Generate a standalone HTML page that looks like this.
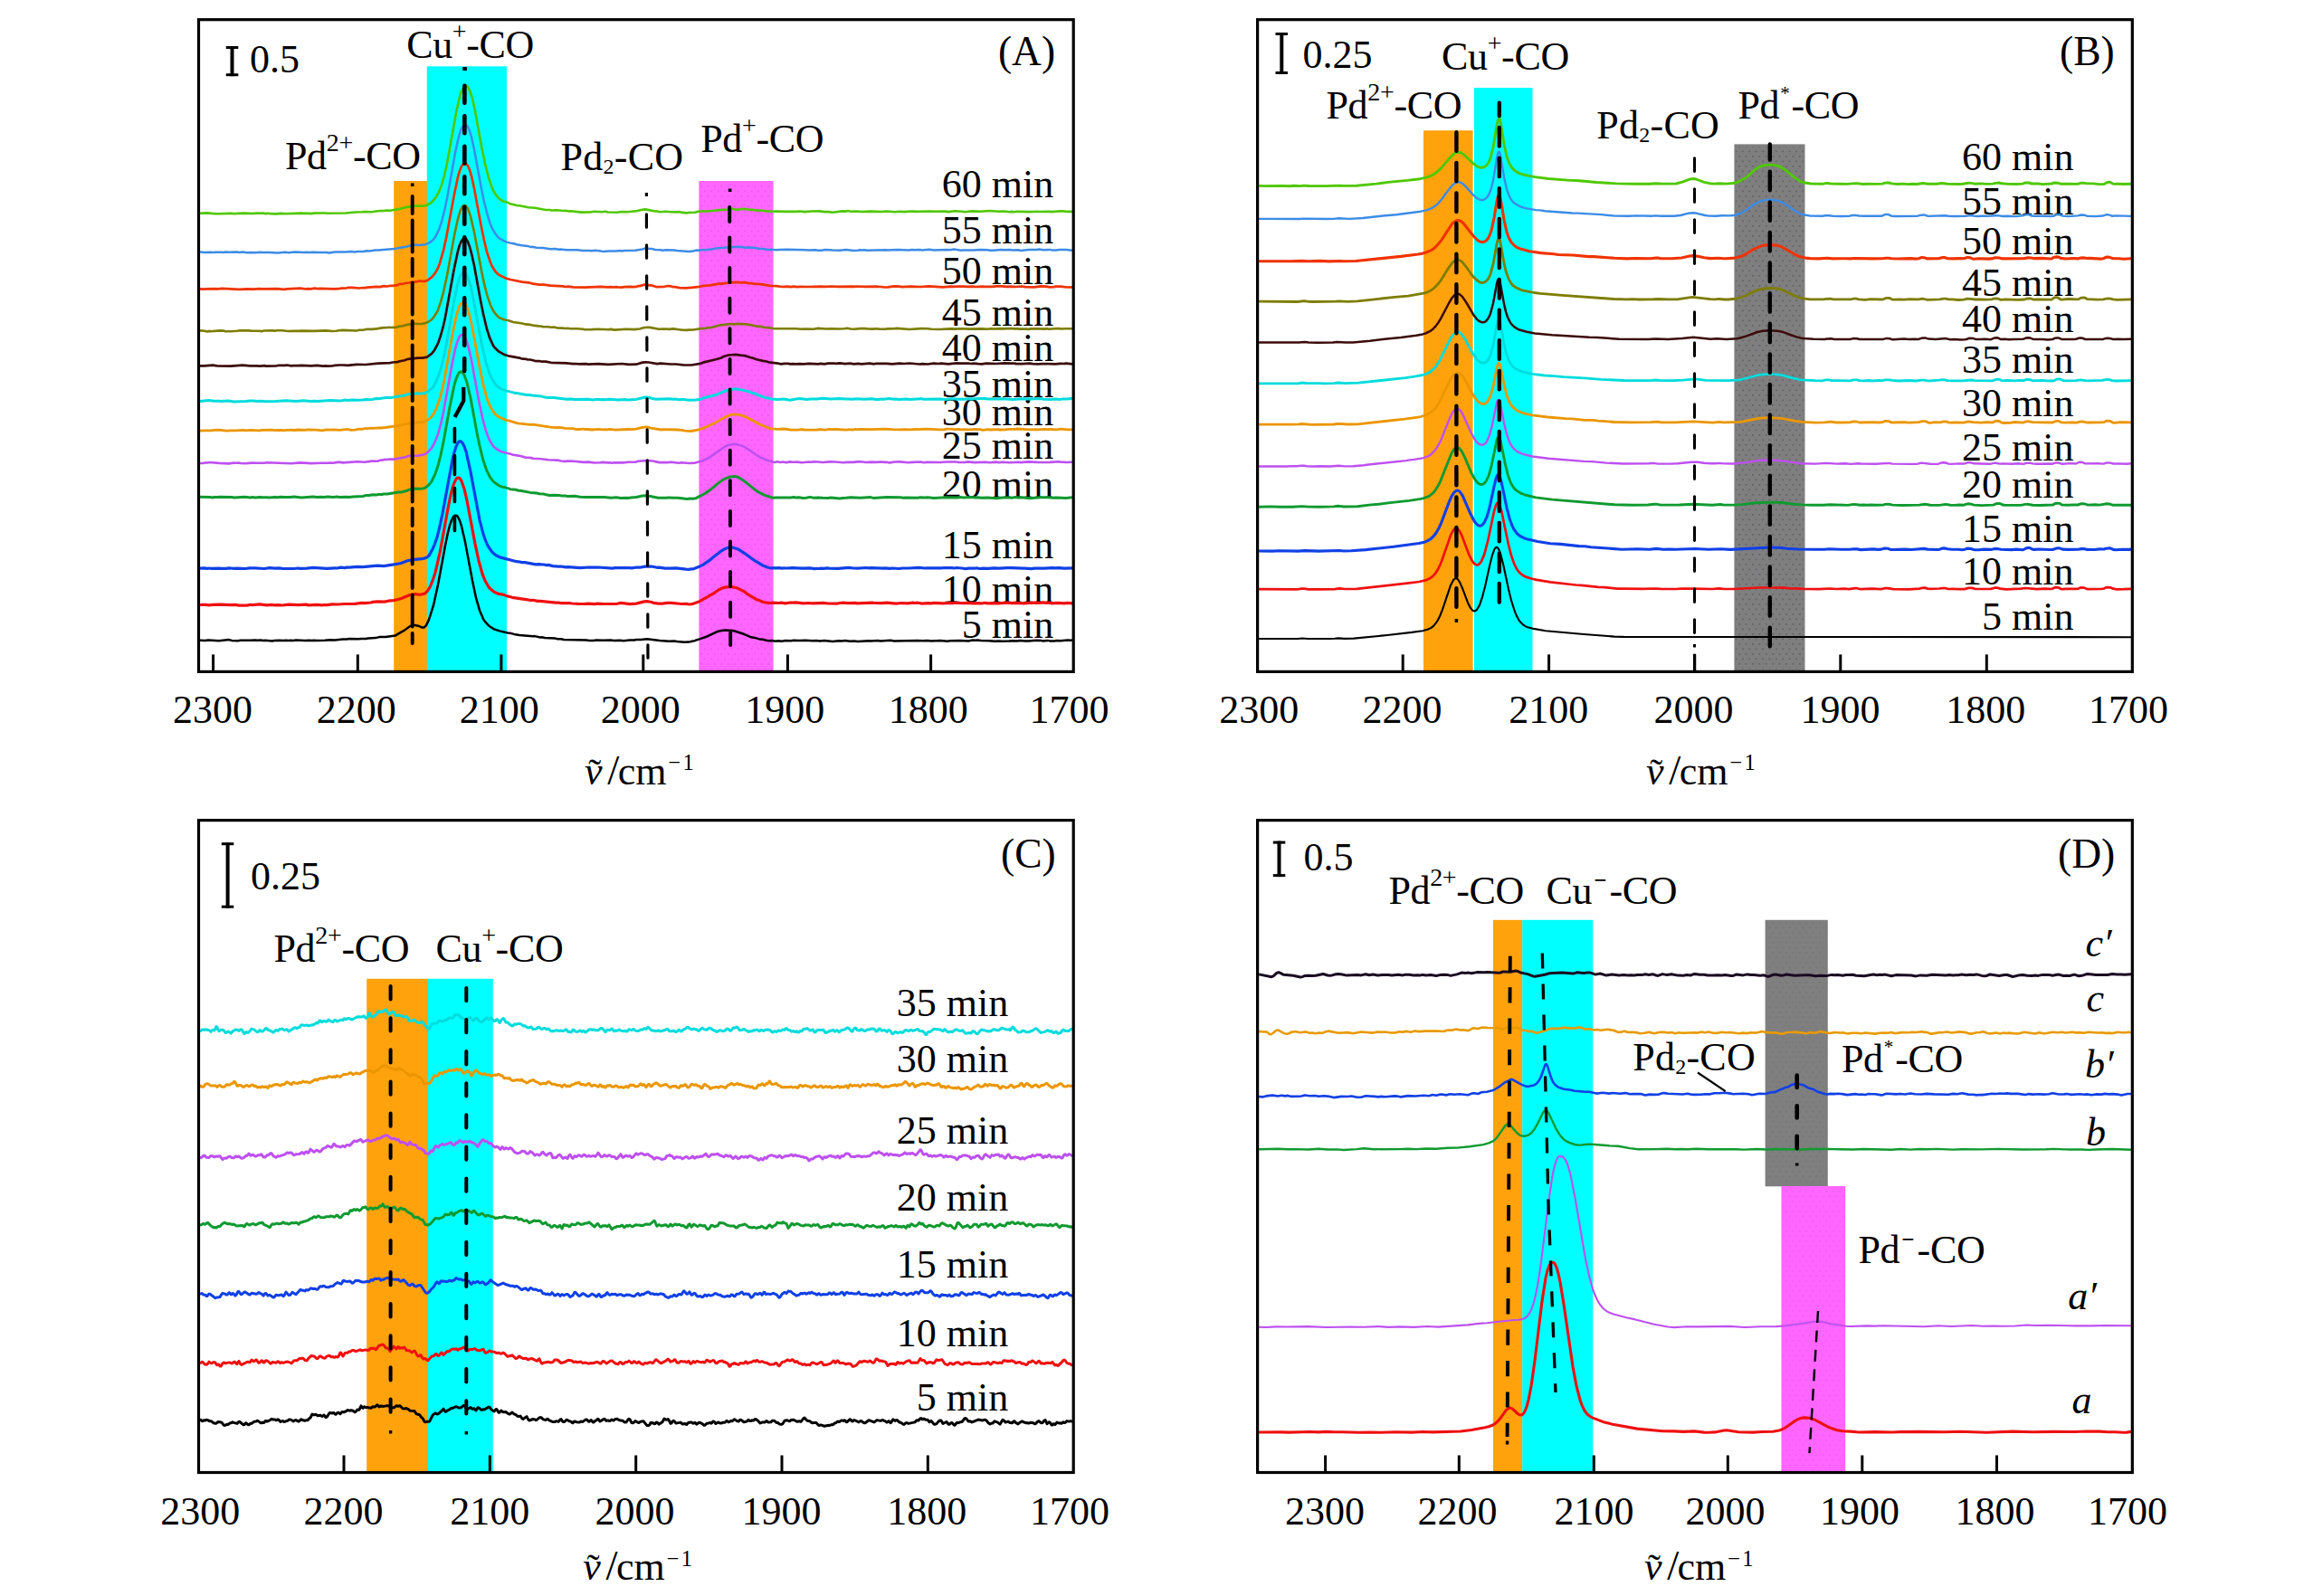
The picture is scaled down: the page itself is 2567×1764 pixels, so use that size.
<!DOCTYPE html>
<html><head><meta charset="utf-8"><title>IR spectra</title>
<style>html,body{margin:0;padding:0;background:#fff}body{width:2567px;height:1764px;overflow:hidden;font-family:"Liberation Serif",serif}svg{display:block}</style></head>
<body>
<svg width="2567" height="1764" viewBox="0 0 2567 1764" font-family="'Liberation Serif', serif" fill="#000">
<defs><pattern id="pm" width="7.4" height="11" patternUnits="userSpaceOnUse"><rect x="1" y="1.5" width="1.7" height="1.7" fill="#e552e6"/><rect x="4.7" y="7" width="1.7" height="1.7" fill="#e552e6"/></pattern><pattern id="pg" width="7.4" height="11" patternUnits="userSpaceOnUse"><rect x="1" y="1.5" width="1.7" height="1.7" fill="#5e5862"/><rect x="4.7" y="7" width="1.7" height="1.7" fill="#5e5862"/></pattern></defs>
<rect x="435.2" y="200.0" width="36.8" height="542.4" fill="#ffa20c"/>
<rect x="471.8" y="73.3" width="88.2" height="669.1" fill="#00ffff"/>
<rect x="772.4" y="200.0" width="82.2" height="542.4" fill="#ff66ff"/>
<rect x="774.0" y="203.0" width="79.0" height="536.4" fill="url(#pm)" opacity="0.8"/>
<text x="1164.3" y="218.2" font-size="44" text-anchor="end" >60 min</text>
<text x="1164.3" y="269.0" font-size="44" text-anchor="end" >55 min</text>
<text x="1164.3" y="313.8" font-size="44" text-anchor="end" >50 min</text>
<text x="1164.3" y="360.2" font-size="44" text-anchor="end" >45 min</text>
<text x="1164.3" y="398.9" font-size="44" text-anchor="end" >40 min</text>
<text x="1164.3" y="439.2" font-size="44" text-anchor="end" >35 min</text>
<text x="1164.3" y="469.6" font-size="44" text-anchor="end" >30 min</text>
<text x="1164.3" y="507.2" font-size="44" text-anchor="end" >25 min</text>
<text x="1164.3" y="549.7" font-size="44" text-anchor="end" >20 min</text>
<text x="1164.3" y="617.1" font-size="44" text-anchor="end" >15 min</text>
<text x="1164.3" y="665.5" font-size="44" text-anchor="end" >10 min</text>
<text x="1164.3" y="705.3" font-size="44" text-anchor="end" >5 min</text>
<polyline points="221,235.8 229,235.4 237,236.2 243,236.3 255,235.9 260,236.2 263,235.7 266,235.9 269,235.6 279,236 284,235.6 288,235.8 290,235.5 294,236.1 296,235.8 299,236.2 305,236.4 311,235.9 315,236.2 333,235.6 335,235.9 341,235.7 344,236.1 347,235.6 352,235.5 359,235.5 362,235.8 382,235.5 393,234.5 400,234.3 403,234 411,234.2 417,233.2 425,232.9 428,232.5 431,232.7 442,230.9 444,230.2 451,228.6 453,228.5 455,227.9 459,227.6 467,227.7 471,226.9 476,224.3 481,219.2 485,212.1 488,204.4 491,194.2 494,180.8 504,125.1 507,111 509,103.5 511,98.5 513,95.7 514,94.9 515,94.7 516,95.2 517,96.2 519,99.7 522,109 525,122.8 532,161.6 536,181 540,196.8 544,208.1 546,212.3 548,215.5 551,218.9 554,221.4 556,222.4 560,223.4 563,224.9 571,227.1 574,227.2 584,229.3 591,229.8 603,232 607,232 610,232.5 615,232.3 623,233 626,232.9 629,233.6 631,233.3 642,234.6 652,234.5 657,233.7 665,234.2 669,233.8 672,234.5 682,234.8 687,234 694,234.2 698,233.8 704,233.1 710,231.7 713,231.4 724,233.5 726,233.5 729,234.3 736,233.7 741,234.2 748,234.4 750,234.1 754,234.9 759,235.4 761,235 768,234.8 771,233.9 774,233.5 782,233.5 795,232.1 805,231.5 809,230.8 813,231.7 818,231.4 822,230.7 828,231.7 831,231.7 835,232.4 843,232.7 847,233.4 853,233.8 858,233.6 868,233.9 871,233.7 879,233.9 884,233.5 889,234.1 897,233.5 905,233.4 911,234.1 915,234.1 920,234.8 929,233.6 932,233.4 935,233.6 937,233.1 940,233.8 946,233.6 951,234 962,233.6 975,234 979,233.5 989,234.3 994,233.7 999,234.1 1008,233.5 1012,233.9 1028,233.5 1034,233.8 1044,233.6 1048,234.1 1055,233.3 1063,233.7 1066,234.2 1074,233.4 1084,233.8 1093,233 1104,233.7 1109,233.5 1116,234.2 1118,233.9 1120,234.2 1124,233.7 1136,234.1 1143,234 1145,233.7 1148,234 1160,233.8 1162,234.1 1173,233.3 1179,233.9 1185,233.9" fill="none" stroke="#4fc800" stroke-width="2.6" stroke-linejoin="round" />
<polyline points="221,278.6 226,279.1 232,278.8 235,279.1 239,278.7 245,278.7 247,279 249,278.6 253,278.8 262,278.5 265,278.9 268,278.6 273,279.2 277,279 282,279.3 288,278.8 290,279.1 297,279 307,279.5 315,278.7 319,279.3 326,278.6 336,279 338,278.7 341,279 347,278.7 352,279.1 361,279.1 364,279.4 370,278.5 376,278.4 382,278.6 388,278.1 392,278.4 395,277.9 402,278 405,277.3 408,277.6 415,276.5 418,276.5 436,275.1 442,273.7 449,272.7 451,272 459,270.6 463,271 470,270.2 474,268.6 477,266.4 479,264.6 481,262.1 485,253.9 488,245.2 491,233.4 494,219.2 503,169.2 506,155 508,147.5 510,142 512,139 514,137.8 515,138 517,140.3 519,144.8 521,151.5 524,165.3 532,208.7 535,223 539,238.7 541,245.2 543,250.5 545,254.5 548,259.3 550,261.7 552,263.5 557,266.4 560,267.6 566,269.1 568,269.3 571,270.2 577,271.3 583,271.9 586,272.9 588,272.8 593,273.7 600,274 608,275.2 614,275.1 617,275.7 619,275.5 626,276.3 638,276.3 644,277 651,276.9 654,277.3 658,276.8 664,277.4 667,278.1 673,277.4 681,277.4 685,277 687,277.4 690,276.9 702,276.7 710,275.4 714,274.3 717,274.8 720,274.9 724,276 730,276.2 732,276.7 736,276.2 742,276.6 745,276.4 748,276.9 761,278 766,277.6 769,276.6 772,276.7 775,276.2 781,276.1 786,275.6 793,274.2 800,273.8 802,273.4 804,273.5 815,272.7 820,273 823,273.8 827,273.5 832,273.8 840,275.1 843,275 849,275.9 852,275.8 857,276.3 862,275.9 869,275.8 890,276.3 893,276.6 901,276.3 904,276.7 908,276.7 912,276.1 920,276.6 928,276.7 935,276.1 943,276.9 948,276.7 950,276.3 953,276.5 955,276.2 958,276.8 979,276.2 981,276.6 992,275.9 1004,276.6 1008,276 1010,276.3 1016,276.1 1019,276.5 1027,275.8 1032,276.4 1046,276 1050,276.2 1054,275.6 1062,276.7 1064,276.4 1076,276.4 1083,276 1091,276.2 1094,276.7 1098,276.8 1106,276 1110,276.3 1116,276 1119,276.4 1125,276.3 1128,276.9 1137,276 1146,275.9 1148,275.6 1153,276.2 1160,275.9 1162,276.4 1167,276.6 1171,276.1 1178,276.1 1185,276.8" fill="none" stroke="#3c8ce6" stroke-width="2.5" stroke-linejoin="round" />
<polyline points="221,319.4 226,319.6 228,319.3 237,319.1 241,319.3 245,318.9 265,319.8 273,319.4 281,319.7 286,319.2 291,319.4 306,319.1 314,319.8 317,319.3 332,318.7 338,319.5 340,319.2 343,319.4 348,318.7 351,319.2 354,318.8 369,319.4 374,319.2 377,318.6 383,318.3 385,317.9 389,317.8 397,318.5 401,318 404,318.1 406,317.6 410,317.3 416,316.9 420,317.1 424,316.1 428,316.5 431,315.8 434,315.8 439,315.1 442,313.9 445,313.8 448,313 452,312.5 454,312 457,311.9 459,311.4 461,311.3 463,310.6 469,310.9 472,310.1 477,306.4 481,301.7 484,296.2 486,290.9 490,276.9 493,263.5 502,214.6 506,195.7 508,188.7 510,183.7 512,181 513,180.4 514,180.2 515,180.7 517,183.3 519,187.9 521,194.6 524,208.2 531,246.2 535,265.8 538,278.5 542,290.3 544,294.7 546,298 548,300.7 551,303.6 559,307.6 564,309 577,311.6 584,312.3 589,313.6 596,314.7 601,314.7 608,315.7 622,316.4 625,317 628,316.7 633,317.4 646,317.6 664,316.8 671,317.4 675,317.2 678,317.5 681,317.1 683,317.5 687,317.6 690,317.1 696,316.9 700,317.2 703,316.9 705,316.2 707,316.1 712,314.6 721,315.7 726,317.2 733,317 738,316 741,316.3 744,317.2 746,317.2 751,318.1 758,318.4 771,317.2 778,315.8 785,315.4 795,313.4 797,313.6 813,311.8 819,312.4 822,312.2 828,313.1 830,313 833,313.6 841,314.1 851,315.9 858,316.1 864,317 870,316.7 874,317.1 877,316.7 881,317.1 884,316.8 893,317 907,316.6 912,316.9 919,316.5 926,316.9 942,316.6 944,316.8 946,316.5 956,316.8 969,316.6 971,317 974,317 977,317.5 981,317.3 988,316.3 994,316.6 997,317.1 1006,316.7 1018,317 1026,316.3 1042,317.4 1051,316.7 1054,316.8 1059,316.5 1062,316.7 1065,316.6 1069,316.9 1075,316.6 1078,317 1086,316.6 1088,316.9 1096,316.9 1101,316.4 1107,316.3 1112,316.9 1117,316.6 1122,317 1129,316.5 1133,317.1 1143,317.3 1150,316.3 1156,316.6 1160,317.4 1164,317.2 1167,316.7 1172,316.7 1179,317.5 1185,317.4" fill="none" stroke="#f03200" stroke-width="2.7" stroke-linejoin="round" />
<polyline points="221,365.4 226,365.8 229,366.4 231,365.9 233,366.2 243,365.4 247,365.6 249,366.2 255,366.3 262,365.8 265,365.3 275,365.4 278,365.8 285,365.7 290,366.1 292,365.5 300,365.3 303,365.6 307,365.2 312,365.3 318,366 324,365.7 330,365.9 333,365.6 347,365.9 360,365.4 367,366 372,365.8 374,365.3 379,364.9 394,365.5 397,364.8 402,364.6 406,363.8 411,363.9 416,363.4 424,362.1 426,362.2 430,361.7 432,362 437,361.9 442,360.6 445,360.2 449,359.1 457,357.8 466,358 472,356.4 476,354 478,352.1 480,349.5 483,344.8 484,342.5 487,333.9 490,322.9 494,304.6 502,260.5 506,241.8 508,234.8 510,229.9 511,228.4 512,227.4 513,227 514,227.1 515,227.7 517,230.4 520,239.1 524,256.4 532,299 535,313.4 538,325.3 542,337.2 544,341.5 546,344.9 549,348.7 551,350.5 553,351.8 557,353.3 562,354.3 567,356 576,357.2 581,358.4 586,358.9 589,359.6 595,360.4 598,360.5 600,361.3 605,361.3 609,361.7 612,361.5 616,362.5 621,362.6 625,363 627,362.8 630,363.3 637,363.2 644,363.7 646,364.2 654,364.1 661,363.7 672,364.3 675,363.9 679,364.6 692,363.7 701,364.1 707,363.5 710,362.5 715,361.8 718,361.9 728,363.8 734,363.5 740,363.9 744,363.4 754,364.8 759,364.9 761,364.6 766,364.5 775,363.1 779,363 782,362.3 785,362.3 797,359.1 799,359.1 807,358 812,358.2 815,357.9 824,358.2 831,359.4 836,360.6 841,360.9 844,361.7 852,362.5 855,363.2 879,363.3 886,363.8 889,363.5 899,363.7 904,362.9 913,363.5 919,363.2 927,363.5 933,363.3 936,362.8 940,363.5 944,363.7 951,363.1 956,363.1 959,363.5 964,363.6 969,363.3 972,363.7 978,363.8 981,363.4 988,363.3 991,362.9 1005,364 1018,363.1 1025,363.3 1029,363.8 1038,364 1051,363.4 1057,363.6 1061,363.2 1072,363.6 1085,363.4 1091,363.7 1095,363.2 1098,363.5 1106,363.1 1109,363.4 1118,363 1121,363.4 1124,363.2 1127,363.6 1134,363.6 1136,363.9 1140,363.4 1146,363.3 1154,363.6 1157,363.3 1159,363.7 1166,363.2 1170,363.1 1173,363.5 1176,363.2 1185,363.2" fill="none" stroke="#7d7d00" stroke-width="2.6" stroke-linejoin="round" />
<polyline points="221,404.3 226,404.4 235,403.7 240,404.4 255,404.7 268,403.7 276,404.4 283,404.3 288,404.7 292,404.1 294,404.6 305,404.5 308,403.8 315,403.9 317,403.5 322,404.3 324,404.1 330,404.2 333,403.8 344,404.3 350,403.9 357,404.6 360,404.4 362,404.6 367,404.5 370,403.8 375,403.5 380,403.5 384,403.9 394,402.8 404,403 418,401.6 431,401.1 434,400.5 439,400.1 442,399.2 447,398.2 451,396.8 462,395.6 467,395.6 472,394.6 477,390.9 480,387.2 484,379.6 487,370.8 490,359.8 492,350.7 502,296.1 506,277.5 508,270.7 510,266.2 512,263.9 514,263.5 515,264.1 517,267.2 519,272.9 521,280.1 524,293.5 531,331.9 534,346.7 538,363.7 541,373.1 545,382 547,384.6 551,388.4 557,391.9 563,393.7 574,395.6 576,396.3 581,396.8 583,397.4 586,397.5 591,398.8 594,399.2 596,399 599,399.7 603,399.6 609,400.8 626,401.4 633,402.2 636,402 640,402.4 647,402.1 650,402.6 661,402.2 672,402.9 687,402 695,402.8 703,402.7 710,400.6 713,400.3 717,400.5 726,402.2 730,401.7 741,402.5 747,402.5 755,403.3 764,403.5 774,401.8 779,400.1 791,397.3 797,395.5 800,393.9 805,392.5 813,391.9 818,392.7 823,393.1 829,395 832,395.7 836,397.2 843,398.9 847,399.5 851,400.7 860,401.7 863,402.4 867,401.8 871,401.9 873,402.4 876,402.1 879,402.4 884,402.2 888,402.4 894,401.9 904,402.4 907,401.9 911,402.4 915,401.7 921,401.5 924,401.8 928,401.3 934,402.1 939,401.7 944,402.3 948,401.8 952,402.3 961,401.6 966,402.3 968,401.9 980,401.9 986,402.4 994,401.6 999,402 1005,401.5 1016,402.5 1019,402.2 1025,402.5 1032,401.7 1037,402 1040,401.7 1048,402.3 1057,401.3 1061,401.7 1070,401.5 1073,402 1076,401.6 1081,402.2 1085,402.3 1090,401.7 1101,402 1110,401.3 1117,401.7 1121,401.6 1123,402.1 1130,402.2 1138,401.6 1141,402.1 1147,402.4 1154,402 1166,402.3 1172,401.8 1175,402 1178,401.6 1185,402.3" fill="none" stroke="#3c0a0a" stroke-width="2.7" stroke-linejoin="round" />
<polyline points="221,443.4 231,442.6 236,443.3 242,443.3 244,443.6 252,443 258,443.9 272,443.6 276,443 280,442.9 284,443.4 288,443.2 293,443.7 305,443.5 316,442.7 327,443.4 335,442.8 343,443.5 347,443.3 351,443.6 365,442.5 375,443 378,442.8 381,442.1 384,442.4 390,442 394,442.3 401,442.1 404,441.6 407,441.8 411,441.5 416,440.6 418,440.8 423,439.9 427,439.6 433,439.4 439,438.2 445,437.6 451,435.7 458,435.2 460,434.8 463,435.1 468,434.7 472,433.4 477,429.5 479,427.2 483,419.3 487,408.2 490,396.6 492,387.4 501,336.5 505,316.9 507,309.4 509,304.5 511,301.4 512,300.8 513,300.8 514,301.4 516,304 518,309.1 520,316 523,329.8 530,368.6 533,383.6 537,400.8 541,413.1 543,417.5 547,424 549,426.4 552,428.9 556,430.9 569,434.4 571,434.5 582,436.5 585,436.6 588,437.1 598,437.9 602,439.1 605,439.5 612,439.4 626,441.3 631,441 635,441.5 650,441.3 655,441.9 658,441.4 662,441.4 664,441.8 667,441.6 669,441.8 674,441.3 683,442 691,441.5 693,442 703,441.4 713,439 717,439.2 721,440.5 725,441.3 740,440.7 743,441.2 747,441.1 750,441.7 753,441.4 756,441.5 761,442.2 769,441.9 774,441.3 778,439.7 790,436.8 803,431.5 812,429.8 818,430.6 826,432.4 830,433.9 835,435.2 838,436.8 845,439.4 849,439.9 852,441 860,441.5 866,441.1 873,442.3 882,440.6 886,440.8 891,441.6 896,441 903,441 908,440.3 918,441.1 927,440.6 934,441.1 938,441 941,441.2 947,440.7 955,441.2 963,440.8 968,441.4 972,441.4 974,441 977,441.3 982,440.6 988,441.2 990,441 993,441.4 1002,440.9 1005,441.4 1018,440.7 1021,441.2 1038,441 1045,441.4 1051,440.8 1060,441.2 1062,441 1065,441.3 1071,440.7 1074,441.1 1076,440.7 1082,440.5 1088,440.5 1092,440.9 1108,440.8 1119,441.5 1131,440.7 1140,441.1 1144,440.6 1150,440.7 1154,441.3 1161,441.4 1166,441.1 1171,441.6 1174,440.9 1179,441.1 1184,440.4 1185,440.5" fill="none" stroke="#00dcdc" stroke-width="3.0" stroke-linejoin="round" />
<polyline points="221,476.1 225,475.8 233,475.8 240,475.2 244,475.4 250,476.2 257,475.8 261,475.9 269,475.3 272,475.9 276,475.4 287,475.9 289,475.4 300,475.2 304,475.6 308,475.4 314,475.7 322,475.1 325,475.5 330,475 337,475.3 340,474.8 349,475.2 356,475.8 361,474.9 366,475.2 369,474.8 375,475.3 382,474.6 385,474.7 388,475.3 392,475.2 397,474.1 400,474.3 403,473.7 406,473.7 410,473.1 412,473.3 418,472.9 421,473 426,472.5 441,470.3 453,467.7 458,467.4 461,466.7 466,466.5 470,465.5 472,464.6 476,461.5 479,457.7 482,452 486,440.7 488,433.2 491,419.5 500,369.2 504,350.2 506,342.7 508,337.6 509,335.9 510,334.9 511,334.4 512,334.4 514,335.9 515,337.4 517,342.1 519,349 522,362.5 530,405.8 534,425.2 538,440.2 541,447.9 543,451.8 546,456.2 548,458.4 551,460.8 559,464.4 562,464.8 572,467.8 586,469.4 589,469.2 608,472.2 615,472.7 617,472.4 622,472.9 624,473.3 633,473.7 637,474.7 639,474.3 642,474.5 644,474 646,474.5 650,474.5 654,475 661,474.4 666,474.9 668,474.6 671,474.8 674,474.4 680,475.1 694,474.5 698,474.7 703,474.2 710,472.3 714,472 716,472.2 719,473.1 731,475 733,474.7 749,475 755,475.6 757,476.1 764,476.5 771,475.2 777,473.4 790,467.4 802,460.6 808,458.3 812,457.9 817,458.3 822,459.9 826,461.7 839,468.7 850,473.3 853,473.8 859,474.4 866,474 874,475.1 882,475.1 886,474.6 889,475 902,475.1 906,474.7 912,475.1 915,474.5 920,474.7 923,474.5 935,475.2 939,474.7 942,475.1 945,474.4 947,474.7 951,474.3 963,474.7 978,474.1 986,474.6 994,474.8 1000,474.6 1006,474.9 1012,474.5 1015,474.7 1019,474.3 1024,474.1 1038,474.9 1043,474.8 1046,474.1 1051,474.1 1055,474.6 1059,474.4 1062,474.9 1066,474.6 1071,474.9 1078,474.4 1080,474.7 1083,474.7 1086,475.3 1092,474.7 1094,475 1102,474.6 1105,475 1111,474.9 1114,474.4 1121,474.4 1124,474 1138,474.8 1145,474.6 1147,474.9 1154,474.3 1157,474.7 1162,474.5 1166,474.8 1169,474.7 1172,474.2 1180,474.9 1185,474.9" fill="none" stroke="#eb9600" stroke-width="2.8" stroke-linejoin="round" />
<polyline points="221,512 224,512 227,511.4 229,511.5 232,511 242,511.9 253,512.4 258,511.6 260,511.8 264,511.6 266,512 271,512.2 278,511.6 285,511.8 292,511.7 295,511.3 322,512.3 332,511.4 344,512.1 355,511.7 363,511.8 365,511.5 368,511.8 373,510.9 376,510.9 379,511.4 395,510.2 403,510.7 411,509.6 417,509.7 420,508.7 423,508.4 425,507.9 428,508 430,507.6 435,507.6 448,505.2 452,503.7 462,503.6 469,502.3 473,499.7 477,495.2 480,489.9 484,479.9 487,469.1 490,455.6 500,400.2 503,385.9 505,378.9 507,373.4 508,371.6 509,370.6 510,370.1 511,370.1 513,371.6 514,373.1 516,377.8 518,384.9 521,398.2 529,442.2 533,461.6 537,476.2 539,482 541,486.6 544,491.5 546,494 549,496.4 553,498.9 562,501.3 564,501.6 567,502.8 573,503.6 578,504.7 581,505.7 584,505.7 587,506.1 589,506.7 598,507.2 606,508.3 616,508.6 620,509.5 624,509.9 628,509.6 634,509.7 645,510.9 650,510.6 657,511.5 663,511.3 665,510.9 672,511.4 674,511.3 676,511.7 679,511.3 688,511.4 695,510.7 702,510.7 705,509.8 716,509 723,509.7 725,510.4 729,511.1 737,511.1 742,510.8 750,511.7 753,511.3 762,512 768,511.6 771,510.8 775,509.7 781,507.2 785,504.9 792,499.8 802,493 804,492.2 810,490.9 814,491 820,492.8 824,494.7 835,502.3 841,505.9 844,507 847,508.6 856,511 859,510.3 862,511.1 865,510.5 869,511.1 873,510.4 876,510.7 881,510.6 886,511.2 894,510.5 897,510.7 899,510.4 904,510.5 909,511 917,510.4 923,510.5 932,511.2 936,510.9 943,510.9 947,510.4 951,510.3 957,511 963,510.6 968,510.9 973,510.5 978,510.9 980,510.8 983,511.4 989,510.5 994,510.4 1004,511.3 1008,510.9 1017,510.5 1021,511.3 1024,510.9 1039,511 1046,510.5 1056,510.5 1060,511 1066,511 1069,510.4 1077,511.1 1089,510.7 1094,511.2 1100,510.6 1104,511.1 1107,510.7 1116,511.3 1126,510.8 1128,511.1 1136,510.4 1148,511 1160,510.9 1170,510.2 1173,510.8 1176,510.7 1178,511 1185,510.7" fill="none" stroke="#be50f0" stroke-width="2.6" stroke-linejoin="round" />
<polyline points="221,549.3 232,549.4 235,550 237,549.5 240,549.6 242,549.2 256,549.4 259,549.9 270,549.3 277,549.9 279,549.5 282,549.9 287,549.6 290,549.8 295,549.7 297,550 304,549.5 307,549.7 310,549.2 314,549.6 317,549.4 321,549.6 325,549.1 333,550 346,548.9 350,549.4 355,549.3 358,549.6 362,549.1 368,549.4 373,549.1 375,549.5 383,549.3 386,549.6 390,549 401,548.5 405,547.4 408,547.5 412,546.8 416,546.9 418,546.6 422,546.5 424,546 428,546.1 440,544.1 444,543.9 450,542.2 453,540.9 457,540.1 464,540.2 467,540 470,539.1 474,535.9 477,532 481,523.6 484,514.7 487,502.9 490,488.5 497,449.7 502,425.5 504,418.9 506,414 507,412.3 508,411.4 509,411 510,411 511,411.6 513,414.5 516,422.9 520,440.1 527,478.2 530,492.9 534,509.1 538,520.4 542,528.2 546,533.1 552,537.1 555,538.2 558,538.7 564,540.7 570,541.3 573,542.2 575,542.3 586,544.4 593,545 596,545.8 601,546.1 607,547.5 612,547.3 618,547.5 621,548.1 624,547.9 627,548.5 635,548.3 641,549.3 647,549.6 668,549.5 675,550.2 681,549.7 686,550.6 693,550.2 695,550.4 697,550 703,549.5 710,548 715,547.8 727,550.2 737,550.3 739,549.9 744,550.3 749,550.2 759,551.6 762,551 765,551.2 769,550.7 779,545.5 785,541.3 793,534.6 799,530.1 803,528.3 807,526.9 813,526.6 814,526.8 817,528.2 821,530.7 837,543.4 845,547.4 854,550.2 858,549.9 874,550 877,549.6 880,549.9 883,549.7 887,550.4 891,550.3 895,549.4 899,550.2 904,549.9 909,550.3 915,550.4 918,550 928,550.9 931,550.4 935,550.3 940,549.7 951,550.3 962,549.6 965,550.4 980,549.6 995,549.8 998,550.2 1001,549.9 1014,550.2 1017,549.8 1022,550.1 1025,549.7 1032,550.4 1045,549.8 1058,549.9 1061,549.6 1065,549.9 1068,549.7 1071,549.8 1073,549.5 1078,550.1 1081,549.7 1084,550.3 1091,549.9 1101,550.7 1108,550 1116,549.9 1118,550.2 1122,549.6 1125,550.1 1129,549.8 1138,550.7 1149,549.8 1158,549.7 1164,550.2 1167,550 1178,550.5 1185,549.8" fill="none" stroke="#109a30" stroke-width="3.0" stroke-linejoin="round" />
<polyline points="221,628.1 226,627.8 229,628.3 231,628 234,628.3 242,628.2 245,628.4 250,628.4 253,627.9 259,628.4 262,628.1 271,628.5 276,627.9 282,627.9 292,628.5 298,627.7 304,628.1 308,627.8 312,628.4 325,628.5 329,628 332,628.3 339,628.1 346,627.3 361,628.4 370,627.8 373,628 375,627.4 377,627.2 381,627.6 383,627.1 386,627.2 395,626.4 401,626.6 417,625.2 424,625.6 437,623.7 443,622.5 451,619.5 454,619.2 458,618.3 466,617.7 469,617.1 472,615.9 474,614.1 478,607 480,602.3 483,593.8 486,581.7 489,567.6 500,508 502,499.9 504,493.6 506,489.5 507,488.3 508,487.7 509,487.8 510,488.4 511,489.6 513,493.2 515,498.9 520,521.4 530,574.8 534,590.1 536,596.2 538,600.9 540,604.8 543,609 545,611.3 548,613.7 553,616.1 571,620.7 573,620.8 577,621.6 580,621.7 592,623.8 595,623.7 601,624 604,624.6 606,624.4 611,625.6 617,626.1 620,626 625,626.9 628,626.7 641,627.6 651,627 659,627.2 661,627 677,628.2 679,627.6 684,627.5 688,627.7 695,627.5 698,627.9 704,627 707,627.2 713,626.1 720,626 726,627.3 728,627.2 735,628.1 740,628.2 747,627.9 758,629.2 761,629.3 767,628.6 772,626.6 777,624.1 785,618.7 787,616.8 796,609.7 801,606.7 806,604.8 810,605.2 816,607.1 824,612.4 834,619.7 843,625 848,627 852,628 855,627.6 857,627.8 861,627.7 864,628.1 866,627.8 869,628 876,627.7 886,628.1 895,627.8 900,628.6 902,628.3 905,628.5 907,628.1 910,628.4 914,627.8 916,628.1 926,628.3 938,627.4 943,628 948,628.1 957,627.5 960,627.9 963,627.7 976,628.2 978,627.9 983,628.4 986,628 994,628.5 997,628 1004,628 1015,627.3 1022,628 1024,627.8 1040,627.9 1044,627.5 1052,627.7 1054,628 1057,627.5 1063,628 1067,628.7 1070,628.1 1077,628.2 1079,627.8 1083,628.5 1086,628.1 1092,628.3 1098,627.9 1104,628.2 1113,627.6 1117,627.6 1131,628.1 1133,628 1135,628.4 1137,628.3 1140,628.6 1143,628.1 1154,628.1 1163,627.6 1166,627.9 1170,627.6 1176,628.1 1185,627.8" fill="none" stroke="#1040e6" stroke-width="3.2" stroke-linejoin="round" />
<polyline points="221,668.7 223,668.3 227,668.4 231,668.9 235,668.3 244,668.2 254,668.6 260,668.4 264,669.1 268,669.2 273,669.1 277,668.3 279,668.6 287,667.9 295,668.8 300,668.4 304,668.9 308,668.7 312,669 319,668.1 330,668.6 338,668.1 341,668.9 350,668.3 356,668.8 358,668.5 362,668.6 367,667.8 374,668 380,667.5 392,667.4 400,666.4 403,666.6 410,666 412,665.4 417,664.9 425,665.1 429,664.2 435,663.6 440,662.5 444,661.2 453,657.5 459,656.7 464,657.3 469,656.3 472,653.7 475,649.2 478,641.9 481,632.7 486,611.4 495,561.9 498,547.3 500,539.3 502,533.4 504,529.6 505,528.5 506,528 507,528.1 508,528.7 510,531.7 513,540.3 516,553.2 525,601.1 529,619.7 533,634.2 536,641.8 540,648.8 542,651 546,654.3 551,656.4 556,657.1 559,658.4 566,660.3 583,662.8 586,663.5 589,663.3 594,664.4 597,664.4 614,666.1 617,666 620,666.6 629,666.5 632,667 639,667.4 646,667.5 650,667.2 657,667.6 660,667.2 668,667.5 682,667.3 686,666.4 696,667.6 703,667.1 712,664.9 715,664.6 720,665.5 722,666.3 728,667.1 732,667.1 737,666.4 742,666.4 753,667.5 758,667.3 762,668 766,667.3 773,664.7 782,659.7 784,658.3 788,656.3 794,652 798,650.1 800,649.4 807,648.4 814,649.8 818,651.6 823,654.2 826,656.7 836,662.7 838,663.1 843,665.3 847,666.2 851,666.5 854,666.2 861,666.5 863,666.2 868,666.8 873,666 877,666.1 879,665.8 888,666.8 893,666.5 898,666.8 910,666.3 915,667 925,667.1 928,666.5 932,666.2 936,666.7 945,666.4 947,666.9 964,666.1 966,666.5 974,666.7 980,666.2 990,667.2 996,666.5 1003,666.8 1009,666.1 1011,666.5 1014,666.2 1019,667.1 1025,666.6 1029,666.8 1032,666.4 1042,666.9 1049,666.5 1053,666.7 1055,666.2 1057,666.5 1065,666.7 1071,666.3 1075,666.8 1082,666.7 1085,667 1088,666.3 1092,666.8 1097,666.6 1103,666.8 1114,666.2 1117,666.6 1122,666.4 1131,666.8 1141,666.1 1148,666.4 1153,665.9 1156,666.3 1159,666.1 1162,666.8 1169,666.3 1176,666.8 1179,666.4 1185,666.8" fill="none" stroke="#f01010" stroke-width="3.2" stroke-linejoin="round" />
<polyline points="221,707.8 227,707.9 230,707.5 242,708.2 253,707.1 256,707.9 263,708.2 266,707.7 277,707.8 282,707.4 285,707.7 288,707.4 291,708 293,707.8 301,708.4 303,708 309,707.8 313,708 316,707.7 319,708.1 321,707.8 324,708 327,707.6 337,707.9 342,707.7 344,708 347,707.7 350,708 359,707.8 365,707.3 370,707.4 379,706.6 383,706.5 386,706 396,706.3 399,705.9 404,706.1 407,705.6 415,705.1 419,704.1 426,704.1 437,702.4 446,697.2 453,692.2 457,690.7 462,691.7 466,693.4 468,693.5 469,693.2 471,691.1 474,684.9 479,668.9 484,646.3 492,602.9 495,588.4 497,580.7 499,574.9 501,571.1 502,570.1 503,569.7 504,569.7 505,570.2 506,571.3 508,575.4 510,581.6 514,599 522,641.7 526,660.7 530,674.7 534,684.1 536,687.1 540,691.4 541,692.3 546,695.4 552,697.4 561,699.5 565,700.1 568,700.9 574,702 589,703.3 591,703.1 597,704.5 599,704.3 602,704.9 613,705.4 616,706.2 620,706.3 623,707 648,707.5 651,707.9 656,707.9 659,707.4 666,707.7 675,707.6 678,707.9 685,707.8 689,708.3 696,707.6 701,707.5 703,707 708,706.9 715,706.2 729,708.1 739,708.7 745,708.5 748,709.1 756,709.8 761,709.6 768,708.1 770,707.2 773,706.4 782,703.2 792,698.3 797,697 802,696.6 809,696.9 811,697.3 822,700.8 829,703.9 834,704.9 840,706.6 843,706.8 848,708.1 850,708.3 853,708.1 857,708.8 860,708.3 864,708.8 867,708.1 874,708.3 877,707.7 883,708.1 890,707.8 898,708.3 902,707.9 906,708.5 911,708 920,708.9 927,708.3 930,708.5 934,708.1 939,708.8 944,708.5 948,708.9 960,708.2 962,708.5 970,707.9 973,708.4 984,707.7 988,708.4 1014,707.9 1019,708.2 1025,708.1 1029,708.4 1039,708 1047,708.7 1050,708.3 1061,708.1 1070,708.5 1075,707.6 1078,707.7 1080,707.4 1084,708.1 1093,708.2 1099,708.8 1104,708.5 1107,708.7 1115,708.6 1119,708.2 1124,708.5 1127,708.1 1133,708.6 1137,708.6 1142,708 1146,707.8 1150,707.9 1152,708.4 1158,707.9 1160,708.4 1165,708.4 1168,708 1172,708.2 1180,707.6 1183,707.8 1185,707.5" fill="none" stroke="#000000" stroke-width="2.5" stroke-linejoin="round" />
<line x1="455.7" y1="202.5" x2="455.7" y2="206.0" stroke="#000" stroke-width="3.6" stroke-linecap="butt"/>
<line x1="455.7" y1="215.5" x2="455.7" y2="711.0" stroke="#000" stroke-width="3.9" stroke-linecap="round" stroke-dasharray="18.88 7.62 34.88 7.62" stroke-dashoffset="-1.56"/>
<path d="M513.6 74 L513.6 78" fill="none" stroke="#000" stroke-width="4.6"/>
<path d="M513.4 93 L513.2 410" fill="none" stroke="#000" stroke-width="4.6" stroke-linecap="round" stroke-dasharray="18.82 14.68" stroke-dashoffset="-1.84"/>
<path d="M512.3 428 L512.3 443 L502.6 461" fill="none" stroke="#000" stroke-width="4.2"/>
<path d="M502.4 472 L502.4 588" fill="none" stroke="#000" stroke-width="3.7" stroke-linecap="round" stroke-dasharray="15.04 14.96 21.04 14.96 15.04 16.96 15.04 102.96" stroke-dashoffset="-1.48"/>
<line x1="714.4" y1="213.0" x2="714.4" y2="217.0" stroke="#000" stroke-width="3.2" stroke-linecap="butt"/>
<line x1="714.4" y1="235.5" x2="716.0" y2="742.4" stroke="#000" stroke-width="3.2" stroke-linecap="round" stroke-dasharray="14.44 19.56" stroke-dashoffset="-1.28"/>
<line x1="806.6" y1="208.5" x2="806.6" y2="212.0" stroke="#000" stroke-width="3.6" stroke-linecap="butt"/>
<line x1="806.2" y1="227.3" x2="807.2" y2="713.0" stroke="#000" stroke-width="3.9" stroke-linecap="round" stroke-dasharray="16.08 17.52" stroke-dashoffset="-1.56"/>
<rect x="219.5" y="21.7" width="966.7" height="720.7" fill="none" stroke="#000" stroke-width="3.2"/>
<line x1="235.6" y1="723.4" x2="235.6" y2="742.4" stroke="#000" stroke-width="3" stroke-linecap="butt"/>
<text x="235.0" y="798.6" font-size="44" text-anchor="middle" >2300</text>
<line x1="395.3" y1="723.4" x2="395.3" y2="742.4" stroke="#000" stroke-width="3" stroke-linecap="butt"/>
<text x="393.8" y="798.6" font-size="44" text-anchor="middle" >2200</text>
<line x1="553.9" y1="723.4" x2="553.9" y2="742.4" stroke="#000" stroke-width="3" stroke-linecap="butt"/>
<text x="551.8" y="798.6" font-size="44" text-anchor="middle" >2100</text>
<line x1="710.8" y1="723.4" x2="710.8" y2="742.4" stroke="#000" stroke-width="3" stroke-linecap="butt"/>
<text x="707.7" y="798.6" font-size="44" text-anchor="middle" >2000</text>
<line x1="870.4" y1="723.4" x2="870.4" y2="742.4" stroke="#000" stroke-width="3" stroke-linecap="butt"/>
<text x="867.3" y="798.6" font-size="44" text-anchor="middle" >1900</text>
<line x1="1028.6" y1="723.4" x2="1028.6" y2="742.4" stroke="#000" stroke-width="3" stroke-linecap="butt"/>
<text x="1025.8" y="798.6" font-size="44" text-anchor="middle" >1800</text>
<text x="1181.5" y="798.6" font-size="44" text-anchor="middle" >1700</text>
<text x="646.0" y="866.6" font-size="44" text-anchor="start" font-style="italic" >v</text>
<text x="671.3" y="866.9" font-size="47" text-anchor="start" >/</text>
<text x="682.7" y="866.6" font-size="44" text-anchor="start" >cm</text>
<text x="738.4" y="851.2" font-size="24.5" text-anchor="start" >−</text>
<text x="754.4" y="851.2" font-size="24.5" text-anchor="start" >1</text>
<text x="650.2" y="867.8" font-size="42" text-anchor="start" >˜</text>
<rect x="254.5" y="51.0" width="4.0" height="33.2" fill="#000"/>
<rect x="249.8" y="51.0" width="13.5" height="3.0" fill="#000"/>
<rect x="249.8" y="81.2" width="13.5" height="3.0" fill="#000"/>
<text x="276.0" y="80.2" font-size="44" text-anchor="start" >0.5</text>
<text x="1166.1" y="71.8" font-size="45.5" text-anchor="end" >(A)</text>
<text x="449.2" y="64.0" font-size="44" text-anchor="start" letter-spacing="-0.35" >Cu<tspan font-size="28" dy="-20">+</tspan><tspan dy="20">-CO</tspan></text>
<text x="315.0" y="186.8" font-size="44" text-anchor="start" letter-spacing="-0.35" >Pd<tspan font-size="28" dy="-20">2+</tspan><tspan dy="20">-CO</tspan></text>
<text x="619.6" y="187.9" font-size="44" text-anchor="start" letter-spacing="0.25" >Pd<tspan font-size="24" dy="4">2</tspan><tspan dy="-4">-CO</tspan></text>
<text x="774.2" y="167.8" font-size="44" text-anchor="start" letter-spacing="-0.35" >Pd<tspan font-size="28" dy="-20">+</tspan><tspan dy="20">-CO</tspan></text>
<rect x="1573.0" y="144.2" width="54.6" height="598.2" fill="#ffa20c"/>
<rect x="1629.0" y="97.0" width="64.5" height="645.4" fill="#00ffff"/>
<rect x="1916.4" y="159.4" width="78.1" height="583.0" fill="#7f7f7f"/>
<rect x="1918.0" y="162.0" width="75.0" height="577.4" fill="url(#pg)" opacity="0.8"/>
<text x="2291.4" y="188.1" font-size="44" text-anchor="end" >60 min</text>
<text x="2291.4" y="236.9" font-size="44" text-anchor="end" >55 min</text>
<text x="2291.4" y="281.3" font-size="44" text-anchor="end" >50 min</text>
<text x="2291.4" y="326.9" font-size="44" text-anchor="end" >45 min</text>
<text x="2291.4" y="366.7" font-size="44" text-anchor="end" >40 min</text>
<text x="2291.4" y="412.3" font-size="44" text-anchor="end" >35 min</text>
<text x="2291.4" y="460.3" font-size="44" text-anchor="end" >30 min</text>
<text x="2291.4" y="508.5" font-size="44" text-anchor="end" >25 min</text>
<text x="2291.4" y="550.0" font-size="44" text-anchor="end" >20 min</text>
<text x="2291.4" y="598.5" font-size="44" text-anchor="end" >15 min</text>
<text x="2291.4" y="645.6" font-size="44" text-anchor="end" >10 min</text>
<text x="2291.4" y="696.3" font-size="44" text-anchor="end" >5 min</text>
<polyline points="1391.1,205.4 1398.1,205.6 1416.1,205.4 1425.1,205.7 1430.1,205.3 1436.1,205.6 1441.1,205.1 1446.1,205.5 1465.1,205.6 1479.1,205.1 1486.1,205.4 1499.1,205.2 1521.1,203.1 1534.1,201.4 1555.1,199.4 1569.1,197.7 1574.1,196.6 1580.1,194.8 1583.1,193.4 1586.1,191.5 1589.1,189.1 1593.1,185.1 1601.1,175.6 1605.1,171.5 1608.1,169.2 1611.1,168.2 1614.1,168.8 1617.1,170.5 1628.1,180.8 1632.1,183.9 1635.1,185 1637.1,185.2 1639.1,184.9 1641.1,184 1643.1,182.2 1645.1,179.2 1647.1,174.4 1650.1,162.6 1654.1,138.4 1655.1,133.5 1656.1,131 1657.1,131.6 1658.1,135.1 1662.1,159.8 1665.1,173.3 1668.1,181.2 1671.1,185.8 1673.1,187.9 1676.1,190.1 1679.1,191.6 1683.1,193 1696.1,195.6 1711.1,197.5 1732.1,199.1 1745.1,199.7 1764.1,201.5 1786.1,202.9 1806.1,203.2 1823.1,203.2 1830.1,202.7 1837.1,203.1 1852.1,203 1859.1,201.2 1867.1,198.1 1871.1,197.5 1874.1,198 1883.1,201.3 1889.1,202.7 1894.1,203.1 1900.1,202.8 1907.1,203.1 1915.1,202.5 1921.1,201.1 1929.1,196.6 1939.1,187.8 1944.1,184.5 1949.1,182.8 1958.1,182.1 1963.1,182.9 1966.1,183.9 1969.1,185.4 1974.1,188.8 1983.1,196.4 1989.1,200.3 1993.1,201.7 2001.1,203 2014.1,203.3 2017.1,202.6 2019.1,202.5 2024.1,203.1 2041.1,203.4 2051.1,202.6 2059.1,203.5 2065.1,203.2 2072.1,203.4 2080.1,203.1 2083.1,202.1 2086.1,202 2088.1,202.2 2090.1,202.9 2097.1,203.5 2103.1,203.1 2108.1,203.6 2114.1,203.3 2118.1,203.5 2125.1,202.5 2130.1,203.3 2140.1,203.3 2146.1,202.5 2152.1,203.3 2166.1,203.5 2169.1,203.3 2175.1,202.2 2178.1,202.4 2182.1,203.2 2189.1,202.9 2195.1,203.4 2202.1,203.1 2205.1,202.4 2209.1,202 2212.1,202.8 2219.1,203.4 2228.1,203.5 2235.1,203.1 2237.1,202.2 2239.1,201.9 2242.1,202 2245.1,203 2252.1,203 2257.1,203.6 2267.1,203 2270.1,202 2274.1,202.3 2277.1,203.2 2295.1,203.4 2296.1,203.3 2299.1,202.3 2302.1,202.1 2306.1,202.9 2313.1,202.9 2319.1,203.6 2325.1,203.5 2328.1,201.7 2331.1,201.3 2332.1,201.4 2335.1,203.2 2336.1,203.4 2340.1,203.1 2346.1,203.5 2355.1,203.2" fill="none" stroke="#4fc800" stroke-width="2.9" stroke-linejoin="round" />
<polyline points="1391.1,241.9 1436.1,242 1440.1,241.6 1465.1,242 1474.1,241.9 1479.1,241.3 1491.1,241.9 1506.1,241 1528.1,238.5 1543.1,237.3 1570.1,233.7 1576.1,232.4 1579.1,231.4 1583.1,229.6 1586.1,227.6 1589.1,224.9 1593.1,220.3 1601.1,209.3 1604.1,205.7 1608.1,202.1 1611.1,201.1 1614.1,201.7 1617.1,203.6 1621.1,207.6 1628.1,215.7 1632.1,219.1 1636.1,221 1639.1,221 1642.1,219.3 1644.1,216.9 1646.1,213 1648.1,207.3 1650.1,198.9 1654.1,174.7 1655.1,169.9 1656.1,167.6 1657.1,168.3 1658.1,171.9 1662.1,196.3 1665.1,209.7 1668.1,217.7 1671.1,222.4 1673.1,224.3 1676.1,226.3 1679.1,227.9 1683.1,229.4 1687.1,230.4 1697.1,232.1 1702.1,232.4 1707.1,233.2 1737.1,235.5 1743.1,235.6 1769.1,237.1 1784.1,238.6 1800.1,238.8 1809.1,238.4 1825.1,238.7 1829.1,238.4 1835.1,238.7 1850.1,238.8 1857.1,238 1866.1,235.7 1871.1,235.3 1875.1,235.8 1884.1,238 1888.1,238.6 1896.1,238.8 1903.1,238.2 1911.1,238.4 1916.1,238 1923.1,236 1929.1,232.7 1939.1,225.6 1946.1,222.2 1950.1,221.1 1958.1,220.7 1964.1,221.6 1968.1,223.1 1973.1,225.8 1982.1,232.3 1989.1,236.2 1993.1,237.4 2000.1,238.5 2014.1,238.7 2017.1,238.3 2021.1,238.2 2026.1,238.9 2035.1,239 2044.1,238.7 2047.1,238 2050.1,237.9 2054.1,238.5 2059.1,238.8 2079.1,238.8 2083.1,237.1 2086.1,236.9 2090.1,238.7 2095.1,239 2119.1,238.7 2123.1,237.7 2126.1,237.5 2127.1,237.6 2129.1,238.5 2131.1,238.9 2149.1,238.3 2153.1,238.8 2159.1,239 2172.1,238.7 2177.1,238.1 2179.1,238.2 2182.1,238.9 2186.1,239 2190.1,238.7 2196.1,238.8 2205.1,238.2 2209.1,238.4 2213.1,239 2218.1,238.8 2228.1,239.1 2235.1,238.3 2238.1,237.4 2241.1,237.3 2242.1,237.4 2245.1,238.5 2248.1,238.9 2257.1,238.8 2266.1,239 2269.1,238.8 2272.1,237.4 2274.1,237.3 2276.1,237.4 2279.1,238.6 2286.1,239.1 2296.1,238.4 2298.1,237.8 2300.1,237.5 2303.1,237.7 2306.1,238.7 2315.1,239.1 2324.1,238.5 2327.1,237.3 2328.1,237.3 2331.1,237.6 2334.1,238.8 2339.1,238.4 2355.1,238.9" fill="none" stroke="#3c8ce6" stroke-width="2.4" stroke-linejoin="round" />
<polyline points="1391.1,288.7 1426.1,288.8 1439.1,288.4 1446.1,288.8 1458.1,288.4 1469.1,288.9 1481.1,288.5 1485.1,288.8 1498.1,288.5 1548.1,283.4 1567.1,281 1572.1,280.1 1575.1,279.3 1581.1,276.9 1583.1,275.7 1586.1,273.2 1590.1,268.9 1593.1,265.1 1604.1,248.1 1606.1,245.9 1608.1,244.4 1611.1,243.5 1614.1,244.3 1617.1,246.7 1628.1,260.8 1632.1,265 1634.1,266.4 1636.1,267.3 1638.1,267.6 1640.1,267.2 1642.1,266.1 1644.1,263.9 1646.1,260.3 1648.1,254.5 1651.1,240.6 1654.1,222.3 1655.1,217.5 1656.1,215.2 1657.1,215.8 1658.1,219.2 1662.1,243.3 1665.1,256.8 1667.1,262.5 1670.1,268 1674.1,272 1676.1,273.3 1679.1,274.7 1690.1,277.8 1703.1,279.6 1717.1,280.7 1722.1,281.5 1738.1,282 1756.1,283.6 1761.1,283.6 1784.1,285.3 1798.1,285.9 1806.1,285.5 1824.1,285.7 1830.1,285 1832.1,285.1 1835.1,285.7 1847.1,285.8 1858.1,285 1867.1,283 1871.1,282.6 1876.1,283.2 1883.1,284.8 1890.1,285.6 1899.1,285.2 1904.1,285.8 1907.1,285.8 1917.1,285.1 1923.1,283.8 1928.1,281.5 1938.1,275.3 1946.1,271.8 1951.1,270.9 1959.1,270.7 1964.1,271.3 1968.1,272.5 1984.1,281.5 1989.1,283.8 1995.1,285.1 2000.1,285.6 2010.1,285.9 2019.1,285.3 2025.1,285.9 2040.1,285.7 2045.1,285.9 2049.1,285.5 2069.1,285.9 2080.1,285.7 2084.1,285.2 2087.1,285.2 2090.1,285.8 2098.1,286 2111.1,285.6 2117.1,286.1 2120.1,285.8 2123.1,284.6 2126.1,284.8 2130.1,285.9 2141.1,285.8 2142.1,285.8 2145.1,284.9 2148.1,284.5 2149.1,284.6 2152.1,285.7 2158.1,285.9 2166.1,285.6 2170.1,285.7 2174.1,284.5 2177.1,284.8 2180.1,286.2 2181.1,286.3 2186.1,285.7 2198.1,286.1 2202.1,285.6 2205.1,284.8 2209.1,285 2213.1,285.9 2236.1,285.8 2241.1,284.9 2244.1,285 2247.1,285.6 2256.1,285.4 2265.1,286 2267.1,285.9 2270.1,284.2 2273.1,283.9 2275.1,284.2 2277.1,285.4 2283.1,286 2291.1,285.5 2296.1,285.9 2299.1,285.1 2303.1,284.9 2306.1,285.5 2309.1,285.4 2321.1,286.1 2324.1,285.7 2328.1,284 2331.1,284.4 2335.1,285.8 2341.1,285.7 2347.1,286.2 2355.1,285.8" fill="none" stroke="#f03200" stroke-width="3.1" stroke-linejoin="round" />
<polyline points="1391.1,333.1 1434.1,333.5 1441.1,332.7 1446.1,333.4 1451.1,333.5 1476.1,333.2 1480.1,332.9 1489.1,333.3 1500.1,332.9 1541.1,328.4 1556.1,327.1 1573.1,324.2 1577.1,323.1 1580.1,321.6 1583.1,319.8 1585.1,318 1589.1,313.8 1592.1,310 1601.1,295.6 1604.1,291.4 1607.1,288.3 1609.1,287.2 1610.1,287 1611.1,287 1613.1,287.7 1615.1,289.1 1617.1,291.1 1620.1,294.8 1627.1,304.7 1631.1,309 1635.1,311.9 1637.1,312.5 1639.1,312.4 1642.1,310.9 1644.1,308.8 1646.1,305.2 1647.1,302.7 1650.1,291.4 1654.1,269 1655.1,265 1656.1,263.4 1657.1,264.6 1658.1,268.4 1662.1,291.2 1664.1,299.9 1667.1,308.4 1670.1,313.5 1672.1,315.7 1674.1,317.2 1682.1,320.9 1695.1,323.5 1702.1,324.3 1726.1,326.4 1783.1,330.5 1797.1,330.8 1804.1,330.6 1811.1,331 1825.1,330.9 1832.1,330.5 1843.1,330.9 1853.1,330.8 1870.1,328.4 1890.1,330.7 1895.1,330.8 1899.1,330.4 1905.1,331 1910.1,331 1918.1,330.1 1923.1,329 1930.1,326.3 1939.1,321.8 1943.1,320.3 1948.1,319.1 1955.1,318.4 1962.1,318.7 1967.1,319.7 1970.1,320.7 1982.1,326.6 1988.1,328.8 1994.1,330.2 2000.1,330.8 2015.1,330.9 2018.1,330.4 2022.1,330.2 2026.1,330.9 2045.1,330.8 2049.1,330 2051.1,330.1 2054.1,330.8 2061.1,331.3 2067.1,330.7 2080.1,331 2081.1,330.8 2084.1,329.4 2086.1,329.3 2088.1,329.5 2091.1,331.1 2093.1,331.2 2098.1,331 2104.1,331.2 2110.1,330.6 2120.1,330.9 2124.1,330.2 2130.1,331.3 2143.1,330.9 2148.1,330.2 2150.1,330.2 2153.1,330.9 2157.1,330.9 2164.1,331.5 2170.1,331.1 2174.1,330.2 2177.1,330.3 2183.1,331 2188.1,330.9 2194.1,331.2 2201.1,330.8 2203.1,330.1 2205.1,329.8 2208.1,330.2 2211.1,331.4 2216.1,330.9 2230.1,331.3 2237.1,331 2240.1,330 2242.1,329.8 2244.1,330 2247.1,331.1 2251.1,330.8 2266.1,331.1 2267.1,331 2268.1,330.4 2270.1,328.9 2272.1,328.6 2274.1,329 2277.1,331 2278.1,331.1 2285.1,330.5 2296.1,330.8 2297.1,330.6 2299.1,329.3 2302.1,328.9 2304.1,329.2 2306.1,330.5 2307.1,330.7 2317.1,331.2 2324.1,330.8 2328.1,330 2332.1,330.2 2335.1,330.9 2339.1,331.3 2355.1,330.8" fill="none" stroke="#7d7d00" stroke-width="2.8" stroke-linejoin="round" />
<polyline points="1391.1,378.6 1435.1,378.4 1442.1,378 1446.1,378.5 1456.1,378.7 1473.1,378.4 1477.1,378 1487.1,378.5 1495.1,378.4 1514.1,376.7 1530.1,374.8 1548.1,373 1565.1,370.8 1572.1,369.4 1575.1,368.5 1580.1,366.2 1583.1,364.1 1586.1,360.9 1589.1,357 1592.1,352.2 1601.1,335 1604.1,329.9 1607.1,326.4 1610.1,324.9 1612.1,325 1613.1,325.4 1616.1,328.2 1620.1,334 1628.1,347.7 1632.1,352.9 1634.1,354.6 1636.1,355.8 1638.1,356.3 1640.1,356.1 1642.1,354.9 1644.1,352.5 1646.1,348.8 1647.1,346.2 1650.1,334.8 1654.1,313 1655.1,309.6 1656.1,308.5 1657.1,310.1 1658.1,314.1 1662.1,336.4 1664.1,344.9 1666.1,350.9 1669.1,356.8 1671.1,359.2 1673.1,361.1 1678.1,364.2 1687.1,366.8 1696.1,368.5 1715.1,370.2 1756.1,372.8 1765.1,373 1789.1,374.8 1821.1,374.9 1829.1,374.4 1843.1,375 1859.1,374.1 1871.1,372.8 1890.1,374.7 1897.1,374.3 1908.1,374.9 1919.1,374.2 1922.1,373.8 1930.1,371.4 1942.1,367 1948.1,365.7 1954.1,365.2 1964.1,365.8 1968.1,366.5 1972.1,367.6 1978.1,370 1986.1,372.6 1992.1,374.1 2004.1,374.8 2016.1,375 2019.1,374.4 2023.1,374.2 2027.1,374.9 2039.1,375.1 2044.1,375 2048.1,374.1 2052.1,374.3 2055.1,374.9 2070.1,375 2081.1,374.9 2085.1,373.9 2088.1,374.2 2090.1,374.9 2092.1,375.2 2104.1,374.6 2109.1,375 2115.1,374.7 2120.1,374.9 2123.1,373.8 2127.1,373.4 2131.1,374.6 2139.1,375.1 2150.1,374.1 2155.1,375.2 2160.1,374.9 2166.1,375.4 2171.1,375.3 2173.1,375.1 2175.1,374.1 2177.1,373.8 2180.1,373.9 2183.1,374.9 2189.1,375 2193.1,374.7 2200.1,375.2 2203.1,373.8 2206.1,373.3 2208.1,373.6 2210.1,374.7 2211.1,374.9 2215.1,374.7 2220.1,375.3 2225.1,374.9 2236.1,374.7 2239.1,373.5 2241.1,373.3 2243.1,373.4 2246.1,374.7 2248.1,374.9 2253.1,375.1 2257.1,374.9 2263.1,375.4 2268.1,375 2271.1,373.7 2273.1,373.4 2275.1,373.6 2278.1,374.9 2280.1,375.1 2292.1,374.9 2294.1,374.7 2297.1,373.7 2299.1,373.5 2301.1,373.7 2304.1,375 2305.1,375.1 2322.1,375.1 2324.1,374.9 2327.1,373.9 2329.1,373.7 2331.1,373.9 2335.1,375 2340.1,374.7 2346.1,375 2355.1,374.8" fill="none" stroke="#3c0a0a" stroke-width="2.5" stroke-linejoin="round" />
<polyline points="1391.1,423.8 1434.1,423.8 1439.1,423 1444.1,423.7 1457.1,423.6 1463.1,423.9 1474.1,423.7 1479.1,423 1486.1,423.7 1501.1,423.2 1553.1,417.6 1563.1,416.2 1572.1,414.5 1577.1,412.8 1580.1,411.2 1583.1,408.8 1586.1,405.7 1591.1,398.2 1601.1,377.7 1604.1,372.3 1607.1,368.5 1609.1,367 1610.1,366.7 1611.1,366.7 1613.1,367.5 1616.1,370.5 1619.1,375.2 1627.1,390.1 1632.1,397.3 1634.1,399.2 1636.1,400.5 1638.1,401.1 1640.1,401.1 1642.1,400.2 1644.1,398.2 1646.1,394.7 1647.1,392.2 1650.1,381 1654.1,359.1 1655.1,355.2 1656.1,353.6 1657.1,354.7 1658.1,358.3 1662.1,380.7 1664.1,389.4 1667.1,397.9 1669.1,401.6 1671.1,404.4 1673.1,406.4 1675.1,407.8 1682.1,410.9 1693.1,413.3 1707.1,415 1717.1,415.6 1728.1,416.6 1754.1,418.1 1769.1,419.3 1794.1,420.5 1824.1,420.6 1829.1,420 1835.1,420.6 1850.1,420.5 1860.1,420.1 1873.1,418.9 1885.1,420.3 1909.1,420.7 1920.1,420.1 1924.1,419.5 1941.1,415 1945.1,414.2 1952.1,413.6 1959.1,413.6 1963.1,413.8 1970.1,414.8 1982.1,418.2 1990.1,419.9 2006.1,420.7 2013.1,420.8 2018.1,419.8 2021.1,419.9 2024.1,420.6 2043.1,420.8 2045.1,420.6 2048.1,419.9 2050.1,419.9 2052.1,419.9 2055.1,420.6 2060.1,420.9 2065.1,420.5 2070.1,420.8 2076.1,420.5 2080.1,420.7 2083.1,419.9 2087.1,419.8 2091.1,420.4 2098.1,421 2110.1,420.5 2117.1,421 2123.1,420.2 2126.1,420.1 2130.1,420.8 2133.1,420.8 2143.1,420.2 2146.1,419.6 2149.1,419.8 2152.1,420.6 2157.1,420.9 2169.1,420.8 2178.1,420 2182.1,420.6 2201.1,420.8 2202.1,420.8 2205.1,419.6 2208.1,419.1 2209.1,419.3 2212.1,420.8 2218.1,420.4 2226.1,420.9 2231.1,420.4 2236.1,420.6 2239.1,419.5 2240.1,419.4 2243.1,419.6 2246.1,420.8 2257.1,420.3 2262.1,420.9 2268.1,421 2270.1,420.7 2272.1,419.4 2274.1,418.9 2277.1,419.2 2280.1,420.8 2282.1,420.9 2294.1,420.7 2299.1,419.9 2306.1,420.8 2323.1,420.4 2328.1,419.3 2331.1,419.7 2334.1,420.7 2338.1,421 2355.1,420.6" fill="none" stroke="#00dcdc" stroke-width="2.8" stroke-linejoin="round" />
<polyline points="1391.1,469.2 1427.1,469.2 1435.1,468.9 1438.1,468.5 1450.1,469.3 1474.1,469 1477.1,468.5 1480.1,468.4 1489.1,469 1500.1,468.8 1552.1,463.2 1567.1,461.2 1570.1,460.5 1575.1,458.9 1580.1,456.5 1583.1,454.2 1586.1,451.1 1589.1,446.8 1592.1,441.5 1601.1,422.9 1604.1,417.5 1607.1,413.7 1609.1,412.3 1610.1,412 1612.1,412.2 1613.1,412.7 1615.1,414.4 1617.1,417 1620.1,422 1627.1,435.3 1630.1,440 1632.1,442.5 1634.1,444.4 1636.1,445.8 1638.1,446.5 1640.1,446.4 1642.1,445.4 1644.1,443.3 1647.1,437.3 1650.1,426.6 1654.1,406.4 1655.1,402.8 1656.1,401.2 1657.1,402 1658.1,404.9 1662.1,425.2 1665.1,437.3 1668.1,444.9 1671.1,449.3 1674.1,452.1 1677.1,454.1 1680.1,455.5 1685.1,457.1 1693.1,458.8 1710.1,461 1730.1,462.6 1737.1,462.8 1751.1,464.3 1760.1,464.4 1766.1,465.1 1784.1,466.5 1803.1,466.8 1824.1,466.7 1831.1,466.2 1836.1,466.8 1851.1,466.8 1871.1,465.9 1893.1,467.1 1899.1,466.3 1905.1,466.9 1923.1,466.3 1943.1,462.5 1953.1,461.7 1968.1,462.4 1984.1,465.4 1992.1,466.4 2006.1,467.1 2016.1,466.9 2023.1,466.2 2029.1,467 2044.1,466.9 2048.1,465.9 2051.1,466 2055.1,467 2070.1,466.6 2076.1,467 2080.1,466.7 2083.1,465.4 2084.1,465.3 2087.1,465.6 2090.1,466.9 2091.1,467 2104.1,466.6 2109.1,467.1 2120.1,466.7 2124.1,465.7 2126.1,465.6 2128.1,465.8 2131.1,467.1 2133.1,467.3 2138.1,466.7 2144.1,466.9 2146.1,466.2 2149.1,466 2151.1,466.1 2154.1,467.2 2161.1,466.8 2170.1,467.1 2175.1,465.8 2180.1,466.7 2189.1,467.2 2195.1,466.6 2202.1,466.9 2205.1,465.3 2206.1,465.1 2209.1,465.5 2212.1,467.2 2214.1,467.5 2221.1,467.3 2226.1,466.5 2235.1,467.1 2239.1,465.9 2241.1,465.7 2246.1,466.6 2268.1,467 2271.1,465.7 2274.1,465.3 2275.1,465.5 2278.1,466.9 2283.1,467.1 2291.1,466.8 2295.1,467.1 2298.1,466.2 2300.1,466 2302.1,466.1 2306.1,467 2321.1,466.9 2325.1,466.6 2328.1,465.1 2332.1,465.5 2335.1,467.2 2336.1,467.3 2343.1,466.7 2355.1,466.9" fill="none" stroke="#eb9600" stroke-width="2.8" stroke-linejoin="round" />
<polyline points="1391.1,515.5 1422.1,515.5 1428.1,515.1 1433.1,515.3 1438.1,514.6 1441.1,514.7 1444.1,515.3 1451.1,515.5 1459.1,515.2 1470.1,515.5 1479.1,514.7 1486.1,515.4 1495.1,515.2 1507.1,514.3 1512.1,513.5 1554.1,509.1 1558.1,508.4 1563.1,507.9 1573.1,506.1 1577.1,504.7 1580.1,503.1 1584.1,499.5 1587.1,495.9 1590.1,490.9 1593.1,484.5 1601.1,464.4 1604.1,457.7 1607.1,453.1 1609.1,451.7 1610.1,451.5 1611.1,451.7 1613.1,453 1616.1,457.2 1626.1,479.2 1629.1,484.8 1631.1,487.7 1633.1,489.9 1635.1,491.2 1637.1,491.7 1639.1,491.5 1641.1,490.3 1643.1,487.7 1646.1,480.6 1649.1,469.1 1654.1,444.8 1655.1,442.3 1656.1,441.9 1657.1,443.6 1658.1,447.1 1662.1,467.8 1665.1,480.5 1668.1,488.9 1670.1,492.5 1672.1,495 1674.1,497.1 1677.1,499.4 1682.1,501.7 1693.1,504.5 1711.1,506.8 1750.1,509.9 1759.1,510.1 1775.1,511.6 1794.1,512.5 1822.1,512.3 1827.1,511.9 1832.1,512.6 1846.1,512.6 1854.1,512.2 1869.1,510.7 1873.1,510.6 1876.1,510.7 1883.1,511.8 1890.1,512.3 1896.1,512.3 1899.1,511.9 1905.1,512.4 1915.1,512.5 1928.1,511.4 1945.1,508.8 1954.1,508.5 1968.1,509.1 1990.1,512.2 2006.1,512.6 2018.1,511.9 2030.1,512.6 2039.1,512.3 2045.1,512.9 2053.1,512.2 2056.1,512.5 2073.1,512.8 2087.1,511.9 2091.1,512.6 2111.1,512.9 2119.1,512.7 2123.1,511.6 2133.1,512.8 2140.1,512.9 2142.1,512.7 2145.1,511.5 2147.1,511.3 2150.1,511.5 2153.1,512.6 2156.1,512.9 2165.1,512.4 2170.1,512.5 2171.1,512.4 2174.1,511.3 2177.1,511.1 2181.1,512.3 2199.1,512.8 2203.1,511.9 2205.1,511.8 2210.1,512.6 2213.1,512.4 2223.1,512.8 2230.1,512.3 2236.1,512.9 2239.1,511.9 2243.1,511.6 2246.1,512.4 2250.1,512.8 2265.1,512.5 2268.1,512.7 2271.1,511.6 2273.1,511.4 2275.1,511.6 2278.1,512.7 2279.1,512.7 2288.1,512.1 2294.1,512.5 2297.1,511 2298.1,510.8 2301.1,511 2304.1,512.3 2305.1,512.4 2318.1,512.3 2324.1,512.6 2325.1,512.5 2327.1,511.6 2329.1,511.4 2332.1,511.6 2335.1,512.5 2341.1,512.4 2350.1,512.7 2355.1,512.2" fill="none" stroke="#be50f0" stroke-width="2.4" stroke-linejoin="round" />
<polyline points="1391.1,560.2 1404.1,559.9 1414.1,560.2 1428.1,560.2 1439.1,559.6 1446.1,560.1 1457.1,560.3 1474.1,559.9 1478.1,559.2 1485.1,560 1500.1,559.8 1513.1,558.1 1523.1,557.3 1536.1,555.6 1557.1,553.4 1570.1,551.4 1573.1,550.7 1578.1,548.9 1581.1,547 1584.1,544.3 1587.1,540.3 1590.1,535.1 1592.1,530.8 1604.1,500.8 1607.1,496.1 1608.1,495.3 1610.1,494.6 1612.1,495.2 1613.1,496 1616.1,500.3 1619.1,506.6 1626.1,523.1 1630.1,530.2 1632.1,532.8 1634.1,534.6 1636.1,535.5 1638.1,535.4 1640.1,534.3 1642.1,532 1645.1,525.6 1648.1,515 1654.1,486.1 1655.1,483.6 1656.1,482.9 1657.1,484.1 1658.1,487 1663.1,511.9 1666.1,524.4 1669.1,532.9 1671.1,536.7 1673.1,539.6 1675.1,541.6 1677.1,543.1 1681.1,545.4 1685.1,547 1697.1,549.9 1715.1,552.1 1784.1,557.8 1804.1,558.2 1821.1,558 1828.1,557.2 1831.1,557.3 1835.1,558.1 1856.1,558 1871.1,557.2 1892.1,558.2 1901.1,557.5 1905.1,558.1 1916.1,558.1 1925.1,557.6 1940.1,555.7 1956.1,555.1 1969.1,555.5 1982.1,557.2 1991.1,557.9 2002.1,558.2 2015.1,558.2 2022.1,557.7 2042.1,558.4 2048.1,557.4 2052.1,557.7 2055.1,558.2 2059.1,558 2063.1,558.3 2068.1,558 2072.1,558.3 2081.1,558.1 2083.1,557.4 2086.1,557.2 2088.1,557.4 2091.1,558.1 2102.1,558.5 2121.1,558.1 2127.1,557.3 2133.1,558.3 2143.1,558.4 2150.1,557.4 2155.1,558.3 2160.1,558.4 2165.1,558 2170.1,558.2 2173.1,557.1 2175.1,556.8 2178.1,557.1 2181.1,558.1 2190.1,558.6 2202.1,558.1 2203.1,558 2206.1,556.7 2209.1,556.5 2210.1,556.6 2213.1,558 2215.1,558.3 2233.1,558.4 2238.1,557.4 2240.1,557.3 2246.1,558.3 2254.1,558.5 2268.1,558 2269.1,557.8 2271.1,556.5 2273.1,556.2 2276.1,556.4 2278.1,557.8 2279.1,558.1 2286.1,558.3 2291.1,557.9 2296.1,558 2300.1,556.7 2304.1,557 2307.1,558.1 2315.1,557.8 2320.1,558.1 2328.1,556.8 2332.1,557.3 2335.1,558.3 2342.1,558.1 2355.1,558.3" fill="none" stroke="#109a30" stroke-width="2.9" stroke-linejoin="round" />
<polyline points="1391.1,609 1406.1,609.1 1413.1,608.8 1434.1,609.1 1442.1,608.6 1457.1,609.1 1480.1,608.5 1485.1,609 1493.1,608.8 1509.1,607.6 1540.1,604.2 1568.1,600.5 1574.1,599.2 1578.1,597.4 1581.1,595.5 1584.1,592.7 1587.1,588.7 1590.1,583.5 1592.1,579.2 1601.1,555.4 1604.1,548.4 1607.1,543.9 1609.1,542.4 1610.1,542.1 1612.1,542.6 1613.1,543.4 1616.1,547.7 1625.1,568.3 1629.1,576 1631.1,578.7 1633.1,580.5 1635.1,581.2 1636.1,581.1 1638.1,580.1 1640.1,577.7 1643.1,571.1 1646.1,560.7 1651.1,537.2 1653.1,529.1 1654.1,526.4 1655.1,524.9 1656.1,524.9 1657.1,526.3 1659.1,532.8 1665.1,561.6 1668.1,573.2 1671.1,581.4 1673.1,585.2 1675.1,588.2 1677.1,590.4 1680.1,592.7 1684.1,594.7 1688.1,596.1 1699.1,598.5 1713.1,600.7 1724.1,601.4 1745.1,603.6 1751.1,603.8 1758.1,604.7 1792.1,607.2 1809.1,606.8 1823.1,607.3 1830.1,606.4 1838.1,607.3 1845.1,607 1851.1,607.3 1873.1,606.5 1888.1,607.3 1901.1,606.8 1912.1,607.4 1956.1,605 1969.1,605.5 1974.1,606.2 1987.1,607 2004.1,607.3 2016.1,607.3 2021.1,606.8 2035.1,607.3 2044.1,607.3 2048.1,606.8 2052.1,606.9 2056.1,607.6 2070.1,606.9 2075.1,607.4 2079.1,607.1 2081.1,606.4 2083.1,606.1 2086.1,606.3 2089.1,607.4 2090.1,607.5 2105.1,607.1 2112.1,607.5 2126.1,606.4 2130.1,607.1 2141.1,607.5 2143.1,607.3 2146.1,606.1 2149.1,605.9 2152.1,606.8 2157.1,607.3 2164.1,607.2 2168.1,607.7 2171.1,607.2 2174.1,606.1 2178.1,606.5 2180.1,607.3 2182.1,607.6 2187.1,607.7 2192.1,607.1 2200.1,607.4 2204.1,606.6 2207.1,606.5 2211.1,607.2 2223.1,607.6 2228.1,607.1 2235.1,607.7 2236.1,607.5 2239.1,605.9 2242.1,605.4 2243.1,605.6 2246.1,607.2 2248.1,607.4 2253.1,607 2265.1,607.5 2268.1,607.4 2269.1,607.3 2272.1,606.1 2275.1,605.7 2276.1,605.9 2279.1,607.1 2285.1,607.4 2296.1,607.3 2300.1,606.6 2303.1,606.6 2306.1,607.4 2314.1,607.5 2320.1,606.9 2325.1,607 2327.1,606.3 2331.1,605.9 2332.1,606 2335.1,607.4 2338.1,607.8 2345.1,607.2 2352.1,607.4 2355.1,607.1" fill="none" stroke="#1040e6" stroke-width="3.1" stroke-linejoin="round" />
<polyline points="1391.1,651.2 1432.1,651.4 1435.1,651.2 1438.1,650.6 1441.1,650.6 1446.1,651.3 1459.1,651.3 1475.1,651.1 1480.1,650.3 1486.1,651 1499.1,650.8 1555.1,644.7 1568.1,643 1575.1,641.4 1579.1,639.8 1583.1,637.2 1586.1,633.9 1588.1,630.8 1591.1,624.9 1593.1,620 1603.1,591.4 1606.1,585.7 1608.1,584 1609.1,583.8 1610.1,584.1 1611.1,584.8 1612.1,585.9 1614.1,589.3 1616.1,593.9 1623.1,612.5 1626.1,618.7 1628.1,621.7 1630.1,623.7 1632.1,624.4 1633.1,624.3 1635.1,622.9 1637.1,620.1 1640.1,613.1 1644.1,598.2 1651.1,564.8 1653.1,558.3 1654.1,556.5 1655.1,555.9 1656.1,556.4 1657.1,558.1 1659.1,564.4 1667.1,602.6 1670.1,614.3 1673.1,622.9 1676.1,629 1678.1,631.8 1680.1,633.8 1683.1,636 1686.1,637.6 1692.1,639.5 1698.1,640.9 1713.1,643.4 1741.1,646.5 1747.1,646.8 1766.1,648.9 1773.1,649.2 1787.1,650.6 1793.1,650.7 1815.1,650.9 1828.1,650.5 1835.1,650.9 1852.1,651 1858.1,650.6 1870.1,650.6 1892.1,651 1900.1,650.4 1905.1,651 1916.1,651 1943.1,649.5 1958.1,649.5 1971.1,649.7 1980.1,650.5 1985.1,650.4 1994.1,651 2010.1,651.1 2022.1,650.5 2029.1,651 2038.1,650.7 2043.1,651.1 2050.1,650.2 2052.1,650.2 2056.1,651.2 2069.1,650.7 2078.1,651.2 2080.1,650.9 2082.1,650.2 2086.1,650.1 2092.1,651.1 2109.1,651.3 2121.1,650.6 2124.1,649.8 2127.1,649.6 2130.1,650.6 2133.1,650.9 2143.1,650.5 2146.1,650.1 2150.1,650.2 2153.1,651 2158.1,650.8 2163.1,651.2 2171.1,651.1 2175.1,649.9 2179.1,649.9 2183.1,651 2200.1,650.9 2204.1,649.7 2206.1,649.6 2208.1,649.8 2210.1,650.7 2217.1,651.3 2233.1,650.7 2238.1,650 2251.1,651.1 2260.1,650.6 2266.1,651 2268.1,650.7 2270.1,649.5 2272.1,649.2 2275.1,649.5 2277.1,650.8 2279.1,651.1 2283.1,650.8 2295.1,650.9 2296.1,650.7 2299.1,649.4 2303.1,649.6 2306.1,651 2307.1,651.1 2322.1,650.8 2325.1,650.5 2327.1,649.4 2329.1,649.1 2332.1,649.3 2335.1,650.7 2339.1,651.3 2347.1,651.2 2355.1,650.8" fill="none" stroke="#f01010" stroke-width="2.7" stroke-linejoin="round" />
<polyline points="1391.1,706 1434.1,706 1439.1,705.5 1445.1,706 1470.1,706 1475.1,705.8 1479.1,705.4 1485.1,705.9 1496.1,705.6 1533.1,702 1560.1,698.9 1572.1,697.2 1578.1,695.5 1581.1,694.1 1584.1,691.8 1587.1,688.2 1589.1,685 1591.1,681 1594.1,673.3 1603.1,646.7 1606.1,641 1608.1,639.3 1609.1,639.2 1610.1,639.6 1611.1,640.5 1613.1,643.5 1616.1,650.4 1622.1,666.4 1625.1,672.2 1627.1,674.6 1629.1,675.5 1631.1,674.8 1632.1,673.8 1635.1,668.4 1638.1,659.6 1641.1,647.9 1646.1,625.2 1649.1,613.3 1651.1,607.8 1652.1,606 1653.1,605.1 1654.1,604.9 1655.1,605.5 1656.1,607 1658.1,612.1 1661.1,623.8 1667.1,651.7 1670.1,663.9 1674.1,676.5 1676.1,681.1 1678.1,684.8 1680.1,687.5 1682.1,689.6 1685.1,691.8 1687.1,692.9 1693.1,694.6 1708.1,697.2 1750.1,701 1784.1,703.6 1794.1,703.9 2355.1,704.2" fill="none" stroke="#000000" stroke-width="2.1" stroke-linejoin="round" />
<line x1="1609.4" y1="144.5" x2="1609.4" y2="676.0" stroke="#000" stroke-width="4.4" stroke-linecap="round" stroke-dasharray="20.48 13.12" stroke-dashoffset="-1.76"/>
<line x1="1609.4" y1="684.0" x2="1609.4" y2="688.0" stroke="#000" stroke-width="3.5" stroke-linecap="butt"/>
<line x1="1656.8" y1="113.7" x2="1656.8" y2="671.0" stroke="#000" stroke-width="4.4" stroke-linecap="round" stroke-dasharray="20.48 13.12" stroke-dashoffset="6.24"/>
<line x1="1872.5" y1="173.6" x2="1872.5" y2="705.0" stroke="#000" stroke-width="3.1" stroke-linecap="round" stroke-dasharray="14.52 19.48" stroke-dashoffset="-1.24"/>
<line x1="1872.5" y1="712.0" x2="1872.5" y2="715.5" stroke="#000" stroke-width="3.1" stroke-linecap="butt"/>
<line x1="1872.5" y1="722.7" x2="1872.5" y2="742.4" stroke="#000" stroke-width="3.1" stroke-linecap="butt"/>
<line x1="1955.8" y1="159.4" x2="1955.8" y2="715.0" stroke="#000" stroke-width="4.4" stroke-linecap="round" stroke-dasharray="20.48 13.12" stroke-dashoffset="3.24"/>
<rect x="1389.6" y="21.7" width="966.7" height="720.7" fill="none" stroke="#000" stroke-width="3.2"/>
<text x="1391.2" y="798.6" font-size="44" text-anchor="middle" >2300</text>
<line x1="1550.2" y1="723.4" x2="1550.2" y2="742.4" stroke="#000" stroke-width="3" stroke-linecap="butt"/>
<text x="1549.6" y="798.6" font-size="44" text-anchor="middle" >2200</text>
<line x1="1711.6" y1="723.4" x2="1711.6" y2="742.4" stroke="#000" stroke-width="3" stroke-linecap="butt"/>
<text x="1711.2" y="798.6" font-size="44" text-anchor="middle" >2100</text>
<line x1="1872.7" y1="723.4" x2="1872.7" y2="742.4" stroke="#000" stroke-width="3" stroke-linecap="butt"/>
<text x="1871.6" y="798.6" font-size="44" text-anchor="middle" >2000</text>
<line x1="2033.8" y1="723.4" x2="2033.8" y2="742.4" stroke="#000" stroke-width="3" stroke-linecap="butt"/>
<text x="2033.6" y="798.6" font-size="44" text-anchor="middle" >1900</text>
<line x1="2195.3" y1="723.4" x2="2195.3" y2="742.4" stroke="#000" stroke-width="3" stroke-linecap="butt"/>
<text x="2194.2" y="798.6" font-size="44" text-anchor="middle" >1800</text>
<text x="2352.1" y="798.6" font-size="44" text-anchor="middle" >1700</text>
<text x="1819.0" y="866.6" font-size="44" text-anchor="start" font-style="italic" >v</text>
<text x="1844.3" y="866.9" font-size="47" text-anchor="start" >/</text>
<text x="1855.7" y="866.6" font-size="44" text-anchor="start" >cm</text>
<text x="1911.4" y="851.2" font-size="24.5" text-anchor="start" >−</text>
<text x="1927.4" y="851.2" font-size="24.5" text-anchor="start" >1</text>
<text x="1823.2" y="867.8" font-size="42" text-anchor="start" >˜</text>
<rect x="1414.3" y="36.0" width="4.0" height="46.0" fill="#000"/>
<rect x="1409.5" y="36.0" width="13.5" height="3.0" fill="#000"/>
<rect x="1409.5" y="79.0" width="13.5" height="3.0" fill="#000"/>
<text x="1439.4" y="74.6" font-size="44" text-anchor="start" >0.25</text>
<text x="2336.7" y="72.2" font-size="45.5" text-anchor="end" >(B)</text>
<text x="1593.0" y="77.2" font-size="44" text-anchor="start" letter-spacing="-0.35" >Cu<tspan font-size="28" dy="-20">+</tspan><tspan dy="20">-CO</tspan></text>
<text x="1465.5" y="131.2" font-size="44" text-anchor="start" letter-spacing="-0.35" >Pd<tspan font-size="28" dy="-20">2+</tspan><tspan dy="20">-CO</tspan></text>
<text x="1764.3" y="152.5" font-size="44" text-anchor="start" letter-spacing="0.25" >Pd<tspan font-size="24" dy="4">2</tspan><tspan dy="-4">-CO</tspan></text>
<text x="1920.4" y="131.0" font-size="44" text-anchor="start" letter-spacing="-0.35" >Pd<tspan font-size="21" dy="-21" dx="1">*</tspan><tspan dy="21" dx="2.2">-CO</tspan></text>
<rect x="405.2" y="1081.8" width="68.0" height="545.7" fill="#ffa20c"/>
<rect x="473.0" y="1081.8" width="71.8" height="545.7" fill="#00ffff"/>
<polyline points="221,1139.5 222,1139.3 223,1138.2 224,1137.9 226,1138.2 228,1137.8 229,1138.4 231,1138.5 233,1140.3 235,1138.3 237,1138.9 239,1134.5 240,1135.5 241,1138.4 242,1139.7 244,1138.3 247,1138.5 249,1141.4 250,1141.5 252,1140.1 253,1140.4 255,1142.1 257,1140.1 260,1138.1 262,1138.3 264,1139.4 266,1137.7 267,1137.9 270,1142.7 272,1140.6 274,1141.4 275,1140.8 278,1137.1 281,1138.1 284,1140.7 285,1140.6 287,1138.5 289,1140 290,1140.1 294,1136.3 295,1136.8 296,1138.4 299,1139.3 302,1141.3 305,1138.3 307,1139.3 309,1137.5 312,1137.1 314,1138.6 317,1137.7 319,1139.9 323,1137.6 325,1136 326,1135.7 328,1136.5 331,1135.3 333,1132.8 337,1133.4 339,1132.9 340,1133.6 341,1133.7 345,1132.7 346,1133 350,1130.3 351,1131 352,1130.2 353,1128 354,1127.9 355,1129.4 356,1129.8 357,1128.8 358,1128.5 361,1129.2 363,1127.1 365,1128.5 368,1129.5 370,1127.2 373,1128.9 377,1127.2 378,1127.7 379,1127.6 380,1126 381,1125.7 382,1126.7 383,1126.5 384,1125.6 385,1125.5 389,1127 395,1123.7 400,1124.1 402,1122.8 404,1125.2 405,1125 406,1123.9 408,1119.5 409,1120.4 410,1122.7 411,1124 412,1124 414,1122.9 417,1119.7 418,1118 419,1117.7 420,1118.5 422,1118.4 423,1118 426,1115.7 427,1116.3 429,1120.4 430,1121.2 434,1118 435,1118.5 437,1122.5 438,1122.8 440,1122 441,1122.1 442,1122.6 444,1122.7 445,1123.7 446,1124.1 449,1123.6 450,1124.3 452,1127.9 455,1128.3 457,1127.3 458,1127.3 460,1129.6 463,1130.5 464,1130.6 466,1129.2 467,1129.5 469,1132.6 473,1137.1 474,1136.9 475,1136 477,1132.1 478,1131.2 483,1131.1 485,1128.3 486,1128 489,1128.8 492,1127.4 493,1127.7 496,1125.1 498,1124.9 500,1125.4 501,1124.7 503,1121.4 505,1121.9 507,1121.7 510,1125.3 512,1125.6 513,1126.2 516,1126.1 519,1124.4 520,1124.7 522,1127.3 523,1128.1 526,1125.4 527,1125.3 530,1129 532,1129.7 533,1129.4 537,1125.2 538,1124.9 540,1127.1 542,1125.1 543,1125.2 546,1128.6 547,1128.6 549,1126.7 550,1127 552,1130.5 553,1129.4 554,1127.5 556,1125.5 557,1126.2 559,1130.1 561,1130 563,1132.1 566,1133.9 567,1133.7 568,1132.3 569,1131.8 570,1132.2 572,1131.6 575,1131.5 577,1132.7 578,1133.8 579,1134.1 580,1133.6 582,1135.3 584,1136 585,1135.9 586,1135 587,1135.1 589,1137.5 592,1137.3 595,1135.2 596,1135.5 598,1137.3 599,1137.4 602,1136.2 604,1137.8 606,1137 607,1137.7 608,1139.3 609,1139.7 610,1139.4 612,1139.7 615,1138.6 617,1139.4 620,1138.9 622,1139.6 623,1139.4 625,1137.8 626,1138 628,1140.6 630,1140.2 631,1141 632,1140.2 633,1138.1 634,1138.2 636,1140.1 638,1140.5 641,1138.8 643,1140.3 645,1139.3 647,1141 651,1138 653,1137.7 655,1138.4 656,1137.9 657,1138 658,1138.8 661,1138.8 664,1136.5 665,1136.4 667,1138.1 668,1139.8 669,1140.7 671,1138.2 672,1138.2 673,1138.7 674,1138.5 676,1137 677,1137.7 678,1139.3 679,1139.8 680,1139 682,1139.2 684,1137.9 686,1139.1 689,1139.7 691,1139.2 692,1140 693,1140.1 695,1137.8 698,1138.6 700,1137.4 701,1137.9 702,1139.1 704,1139.6 706,1139.2 708,1137.9 710,1138 712,1136.7 714,1137.5 716,1135 720,1138.8 721,1139.1 722,1138.9 724,1139.7 726,1139.6 727,1138.8 728,1138.9 729,1139.8 730,1139.7 735,1138.5 737,1137.2 738,1137.7 739,1139.1 740,1139.7 741,1139.4 743,1139.7 744,1139.1 745,1139.2 746,1140.3 747,1140.6 749,1139.4 750,1138.3 751,1138.4 752,1139.6 753,1140 755,1138.1 758,1136.6 759,1135.4 760,1135.4 764,1137.8 767,1137.1 769,1137.6 772,1139.5 776,1136.1 778,1137.6 781,1138.2 784,1136.1 785,1136.4 789,1139.1 790,1139 792,1140.6 795,1138.7 796,1138.7 799,1139.8 801,1139.1 803,1137.2 804,1137 807,1139.3 808,1138.8 810,1136.1 812,1136.3 814,1135.1 815,1135.4 817,1138.4 818,1138.8 820,1138.4 822,1137.4 823,1137.7 824,1138.9 826,1139.3 827,1140.4 829,1139.8 831,1139.8 833,1138.6 834,1138.9 836,1138 837,1138.3 839,1139.8 841,1138.3 844,1139.5 845,1138.5 848,1138.1 851,1138.6 853,1140.7 854,1141.1 855,1140.1 856,1139.8 858,1140.4 860,1139.1 863,1139.4 865,1137.9 867,1138.5 868,1137.1 869,1136.5 871,1138.4 873,1138.7 875,1140.2 877,1139.5 878,1140.4 879,1140.4 880,1139.7 882,1141.1 883,1140.8 884,1139.6 886,1139.8 888,1137.3 890,1137.3 892,1136.6 895,1139 896,1138.9 898,1137.8 900,1141 901,1140.6 903,1138.6 905,1138.2 908,1138.6 909,1138.2 910,1138.3 912,1141.3 913,1141.5 915,1140.2 919,1139 920,1138.3 921,1138.6 922,1140 923,1140.1 924,1138.9 925,1138.6 927,1140.8 928,1140.3 929,1139 934,1137.6 936,1135.9 937,1136 938,1136.6 941,1140.1 942,1140 944,1136.6 945,1136 946,1136.6 947,1138.3 948,1138.8 949,1138.6 950,1139 952,1137.6 954,1139 956,1139.6 959,1137.7 961,1138 963,1136.9 966,1137.3 968,1139.8 969,1140 970,1139 971,1137.2 972,1136.9 974,1139 975,1139.2 977,1138.5 978,1138.7 980,1140.4 982,1138.3 984,1139.5 986,1142.7 987,1142.5 989,1140.5 990,1140.4 992,1141.8 995,1140.6 997,1141.4 998,1140.9 1000,1138.8 1001,1138.3 1004,1139.6 1005,1139.2 1006,1138.2 1009,1139.4 1014,1137.4 1016,1139.4 1020,1139.8 1023,1143.5 1024,1143.3 1025,1141.3 1026,1140.3 1027,1140.7 1028,1140.3 1032,1137.3 1039,1138.1 1042,1139.6 1044,1137.5 1047,1140.5 1048,1141 1050,1140.2 1051,1140.2 1052,1140.7 1053,1140.4 1054,1139.2 1057,1137.7 1059,1138.9 1061,1139.5 1064,1138.8 1066,1141.7 1067,1142.2 1071,1141.6 1073,1142.1 1075,1139.6 1077,1140.2 1079,1142.6 1080,1142.7 1081,1142 1083,1139.2 1085,1137.9 1087,1138.8 1088,1138.7 1091,1139.8 1092,1140 1093,1139.6 1095,1139.8 1097,1138 1098,1137.8 1100,1138 1101,1138.8 1104,1138.5 1107,1136.3 1113,1138.1 1115,1137.6 1116,1138.7 1117,1138.1 1118,1136 1119,1135 1120,1135.7 1122,1138.7 1123,1138.7 1125,1140.9 1128,1140.8 1130,1139.3 1131,1139.1 1134,1140.8 1137,1140.8 1139,1139.6 1140,1139.7 1141,1139.2 1144,1136.8 1145,1136.9 1146,1137.5 1150,1141.4 1154,1140.6 1158,1138.7 1160,1140.1 1162,1139.6 1164,1141.6 1165,1141.5 1167,1140 1169,1142.4 1171,1141.5 1172,1141.7 1174,1138.7 1175,1138.1 1177,1139.4 1181,1139.5 1183,1137.8 1185,1137.2" fill="none" stroke="#00dcdc" stroke-width="3.0" stroke-linejoin="round" />
<polyline points="221,1199 222,1200.7 223,1201.3 225,1201.2 227,1198.4 229,1197.8 230,1197.9 233,1200.1 238,1199.9 239,1200.3 240,1201.4 242,1199.7 243,1199.4 245,1201.2 248,1201.3 250,1199 251,1198.7 253,1199.3 254,1199.1 255,1197.9 257,1197.6 259,1195.3 260,1196.3 262,1200.2 263,1200.3 264,1199.6 266,1199.5 269,1201.6 272,1199.7 273,1199.5 275,1200.7 276,1200.7 278,1199.1 279,1198.9 281,1200.5 282,1200.2 283,1200.7 284,1201.8 285,1202 286,1201.4 287,1201.4 288,1202 290,1200.8 292,1201.6 293,1201 294,1201 296,1202.5 298,1199.7 300,1200.8 302,1199.2 306,1198.5 310,1200 312,1198.5 314,1198.6 317,1195.8 322,1198.7 324,1196.2 325,1196.3 326,1197.1 329,1197.5 331,1196.3 332,1196.8 333,1196.5 335,1195.1 337,1196 340,1195.8 342,1196.8 346,1194.7 348,1193.1 349,1193.1 350,1194.1 351,1193.8 352,1192.6 353,1192.2 355,1191.7 357,1192.1 359,1191 361,1191.5 363,1189.7 365,1189.9 367,1190.6 369,1189.7 370,1190.6 371,1190.5 372,1189 373,1188.9 374,1189.9 376,1190.4 378,1188.5 380,1187.4 382,1187.6 385,1186.9 387,1185.6 388,1185.8 390,1187.7 394,1185.9 395,1186.4 398,1186.9 400,1185 401,1185.2 403,1183.6 407,1183.5 409,1183.1 412,1185.4 413,1185.6 415,1183.5 418,1182.5 421,1179.3 422,1179.1 424,1177.8 427,1177.9 429,1179.6 436,1181.7 437,1182.5 438,1182.6 440,1180.5 441,1180.7 443,1182 445,1182.2 448,1185.2 451,1187.2 453,1189.3 454,1189 456,1187.1 460,1188.7 462,1190.6 464,1190.6 465,1191.3 469,1198.2 470,1198.3 471,1197.3 472,1197.1 474,1197.7 477,1194.1 479,1190.2 480,1189.1 483,1189.2 484,1188.5 485,1186.7 486,1185.8 487,1186.1 488,1186.9 489,1186.8 490,1185.2 491,1184.5 492,1184.9 493,1184.7 496,1182.8 498,1183.4 500,1182.8 502,1183.3 504,1181.3 505,1181.7 506,1182.9 507,1183.1 509,1181.6 512,1186.2 513,1186.4 516,1183.5 517,1183.8 519,1185.5 521,1189.1 522,1188.1 524,1184.5 526,1182.8 527,1183.4 529,1185.9 532,1187.2 533,1187.3 535,1186.6 538,1188.2 540,1187.9 541,1188.1 542,1189.2 543,1189.3 544,1188.5 545,1188.7 547,1188 549,1188.2 551,1187.2 554,1189.1 555,1188.8 557,1191.5 558,1191.9 560,1191.5 561,1192 562,1192 563,1191.3 565,1193.9 567,1194.5 570,1193.7 573,1193.4 574,1194.2 575,1194.2 576,1193.1 577,1193.4 578,1194.9 580,1195.6 582,1196.9 583,1196.7 586,1194.4 588,1194.2 589,1193.4 590,1193.8 591,1195.2 595,1196.7 597,1198.2 601,1197.3 603,1197.9 604,1197.2 605,1195.9 606,1195.6 607,1196 610,1198.3 613,1198.3 614,1199 617,1199.5 619,1199.5 621,1201.3 623,1199.1 624,1198.9 626,1200.8 628,1200.3 630,1200.8 632,1198.7 634,1198.7 636,1197.1 638,1197.2 640,1196.4 642,1198.9 644,1198.4 646,1199.3 648,1199.3 650,1197.5 651,1197.5 653,1200 654,1200.4 656,1199.3 659,1200 661,1201.2 662,1200.5 663,1198.8 664,1199.3 665,1201.1 666,1201.2 667,1200.5 669,1202 671,1199.8 673,1199.9 674,1199.4 676,1201 678,1201.4 680,1199.9 682,1200.5 684,1201.9 687,1201.3 689,1202.3 692,1200.6 694,1202 696,1199.5 697,1198.9 698,1199.6 699,1199.6 700,1199.1 702,1200.9 703,1200.9 705,1200.6 708,1197.9 710,1199.5 711,1198.7 712,1198.8 713,1200.6 714,1201.6 716,1198.9 717,1198.2 718,1198.9 719,1200.6 720,1200.8 722,1198.5 725,1196.8 727,1197.8 729,1200.1 730,1200.3 736,1198.4 740,1201.7 741,1202 743,1200.6 745,1200.8 746,1200.2 747,1200.5 748,1201.8 750,1202.4 751,1201.7 752,1200 753,1199.8 754,1200.4 755,1200.2 757,1198.6 758,1199.3 759,1201 760,1201.9 761,1201.8 762,1201.1 764,1198.4 765,1198.4 767,1199.4 769,1198.7 771,1200.2 773,1200.3 775,1202.9 776,1202.5 778,1198.8 779,1198.4 781,1200.2 782,1200.3 783,1201.1 785,1203.4 788,1201.9 789,1202 792,1201.3 794,1202.2 796,1200.8 797,1200.7 800,1201.6 801,1202.3 802,1202.3 804,1199.6 806,1198.9 808,1197.5 809,1197.8 811,1199.3 814,1197.7 815,1197.6 816,1198.7 818,1198.3 821,1199.6 823,1199.9 825,1201 827,1200.2 829,1202 831,1200.7 833,1202.9 834,1203.1 836,1202.4 838,1199.1 840,1199.6 842,1197.8 843,1198 844,1199.4 845,1199.8 847,1197.6 848,1198 849,1197 850,1195 851,1195.4 852,1197.6 853,1198.4 855,1198.3 858,1197.5 860,1199.8 862,1200 863,1201.3 864,1201.7 868,1201.4 869,1201.7 872,1201.6 874,1200.9 876,1202 879,1201.4 881,1202.4 882,1201.9 883,1200.2 884,1199.4 885,1199.5 887,1201.1 889,1199.8 891,1199.9 893,1200.8 894,1200.8 896,1202.1 900,1199.7 902,1201.3 904,1201.6 907,1200 908,1200.6 909,1202 910,1202 912,1200.8 914,1201.1 915,1201.7 917,1200.6 919,1202.4 922,1201.5 924,1201.5 925,1200.4 926,1200.2 928,1202.3 930,1200.8 932,1201.8 935,1199.8 937,1202.5 939,1199 940,1198.9 941,1200 942,1200.4 944,1199.5 946,1200.1 948,1199.3 950,1201.3 951,1200.8 953,1198.7 954,1198.8 956,1199.9 957,1199.9 959,1198.3 960,1198.4 961,1199.1 964,1199.5 966,1198.5 967,1199.4 968,1199.8 969,1198.3 970,1198.3 972,1200.5 973,1200.3 975,1201.6 976,1201.8 979,1200.5 981,1201.3 986,1199.3 987,1199.8 989,1198.8 991,1200.3 993,1198.7 996,1199 998,1197.8 1000,1195.5 1001,1195.4 1005,1200 1007,1198 1008,1197.5 1009,1197.6 1011,1201.3 1012,1201.2 1013,1199.8 1014,1199.4 1015,1199.6 1018,1197.9 1021,1197.8 1022,1198.6 1023,1198.2 1024,1197.2 1025,1197.3 1028,1198.2 1029,1199 1032,1199.6 1034,1199 1035,1199.2 1037,1197.6 1038,1198.1 1040,1201.4 1041,1201.6 1042,1200.5 1043,1200.4 1045,1202.4 1046,1202.2 1047,1200.9 1048,1200.5 1050,1201.9 1054,1202.8 1055,1202.2 1057,1203 1058,1202 1059,1201.7 1062,1204 1066,1203 1067,1202.6 1068,1201.6 1069,1201.4 1071,1203.5 1073,1204.2 1077,1201.2 1079,1200.6 1081,1199 1083,1201 1084,1201.3 1087,1200.5 1088,1198.8 1089,1198.2 1091,1200.3 1092,1199.8 1093,1198.5 1094,1198.5 1096,1199.6 1099,1199.2 1100,1199.9 1102,1199.6 1103,1200.3 1105,1203.1 1106,1203 1107,1201 1108,1200.5 1112,1202.3 1114,1201.8 1117,1199.2 1118,1199.5 1120,1201.8 1121,1202 1122,1201.3 1126,1200 1128,1197.5 1129,1197.2 1131,1200.5 1132,1200.7 1134,1197.6 1135,1197.4 1137,1199.2 1138,1199.5 1140,1201.5 1141,1201.2 1142,1200.1 1145,1198.9 1147,1201 1148,1201.4 1149,1201.3 1151,1199.3 1153,1199.6 1156,1197.4 1157,1197.4 1159,1199.8 1163,1202.3 1164,1202.1 1166,1199.8 1167,1200.3 1168,1200.2 1170,1198.5 1172,1197.7 1173,1197.9 1175,1200.4 1176,1200.7 1178,1201 1179,1200.7 1180,1199.8 1182,1200.4 1184,1200.1 1185,1200.7" fill="none" stroke="#eb9600" stroke-width="3.0" stroke-linejoin="round" />
<polyline points="221,1279.3 222,1279.5 223,1279.1 225,1277.2 226,1277.1 228,1279.2 231,1279.4 233,1277.5 235,1277.8 237,1278.8 239,1278 240,1278.3 242,1277.7 243,1277.8 246,1281.5 248,1279.9 250,1280.3 253,1278.3 254,1278.1 256,1279.5 257,1279.7 259,1279.4 260,1278.2 261,1278.1 262,1278.8 264,1278 267,1280.4 270,1279.3 271,1278 272,1277.4 273,1277.4 275,1275 277,1277.3 279,1276.3 280,1276.5 282,1278.1 283,1278 285,1276.7 287,1276.8 288,1275.9 289,1275.8 291,1278.8 293,1279 295,1276.7 296,1276.9 297,1276.4 299,1274.6 300,1274.8 302,1277.7 305,1279.3 307,1277.6 308,1278 309,1277.9 315,1275.9 317,1274 319,1274.5 320,1274.1 322,1274.1 324,1276.2 325,1276.7 327,1275.8 331,1275.4 334,1273.6 336,1275.3 338,1272.9 339,1273 340,1274.2 341,1274.1 343,1270.1 347,1273.4 350,1271.1 353,1273 354,1272.7 355,1271.8 357,1269.3 360,1268.3 362,1266.4 366,1268.2 367,1267.6 369,1264.2 372,1267.1 374,1267 376,1268 379,1266.4 381,1267.7 383,1265.6 384,1265.4 386,1266.2 387,1265.6 391,1261.4 392,1261 394,1261.7 398,1259.6 399,1259.6 401,1262.3 404,1260.7 407,1259.9 409,1261.6 410,1261.6 412,1260.4 415,1259.8 417,1258.3 419,1258.3 421,1257.5 423,1256 424,1255.9 426,1254.9 428,1255 429,1255.5 430,1256.7 433,1258.8 436,1258.2 438,1260 440,1259.3 442,1262.2 443,1262.8 445,1262.2 447,1263.3 448,1263.4 450,1265.6 451,1265.1 452,1263.1 453,1262.2 455,1264.9 458,1265.6 459,1265.4 460,1266 462,1268.9 463,1269.6 465,1269.1 467,1271.1 468,1271.1 470,1274.4 473,1275.4 474,1275.3 476,1272 478,1272.5 481,1267.1 482,1266.6 484,1268.1 486,1266 489,1264.3 490,1265.1 491,1265.4 496,1263.7 497,1262.9 498,1262.6 500,1265 502,1265.7 504,1262.9 505,1263.4 506,1262.8 507,1261.1 508,1260.7 510,1261.4 511,1262.6 512,1262.8 514,1261.5 516,1262.4 519,1261.2 521,1262.7 522,1262.6 525,1264.3 528,1267.5 530,1263.7 533,1259.9 534,1259.8 536,1261.5 538,1261.4 540,1263.4 541,1263.9 542,1263.5 543,1264 545,1266.7 547,1268.1 549,1267.2 551,1268.4 553,1270.4 555,1267.7 556,1268.4 557,1270.1 558,1269.7 559,1268.6 562,1270 564,1268.6 565,1269.1 569,1273.7 572,1274.9 575,1273.9 577,1272.1 580,1272.7 582,1275 584,1274.9 586,1272.5 589,1274.6 591,1277 593,1275.9 594,1275.9 596,1277 597,1276.5 599,1273.7 600,1273.3 602,1275.7 604,1277 606,1275.1 608,1274.4 609,1275.1 611,1279.8 613,1279.2 614,1279.7 615,1279.1 617,1276.8 618,1276.2 619,1276.6 622,1280.3 625,1279 627,1280.6 629,1276.6 630,1276.3 632,1279.5 633,1280.3 635,1277.6 637,1278.6 639,1277 640,1276.8 643,1278.3 645,1276.2 646,1276.3 648,1278.2 651,1277.3 652,1278.2 656,1277.4 658,1278.3 661,1274.1 664,1278.4 665,1278.6 666,1278.3 668,1276.6 670,1277.9 671,1277.9 673,1276.7 674,1276.9 676,1278.5 679,1278.5 681,1280.7 682,1280.5 686,1275.7 688,1279.3 689,1279.2 691,1277.5 692,1277.2 694,1278.2 696,1277.3 698,1279.6 699,1279.4 703,1274.8 705,1276.3 708,1274.7 709,1274.7 712,1276.4 713,1276.6 715,1275.7 716,1275.7 718,1277.4 721,1278.9 723,1281.2 725,1279.5 726,1279.5 729,1280.3 731,1281.5 735,1280.6 737,1277.4 739,1277.3 740,1276.6 743,1278.1 745,1280.5 747,1278.8 748,1278.6 750,1279.2 752,1279 754,1280.8 755,1280.6 756,1279.5 758,1278.5 759,1278.5 761,1280.3 762,1280.1 764,1279.4 765,1278.1 766,1278.3 767,1279.9 768,1280.2 770,1278.5 772,1279 774,1277.8 775,1278.3 776,1278.3 780,1275.2 782,1278.1 783,1278.4 784,1278.3 786,1276.1 790,1276.1 793,1275.1 795,1276.8 798,1277.7 800,1278.8 802,1276.7 805,1278.2 807,1277.3 810,1280.6 813,1278 815,1280.2 816,1280.7 817,1280.2 819,1278.3 820,1278.2 822,1279.3 824,1278.1 826,1279.4 828,1277.6 829,1277.5 832,1278.7 833,1279.8 836,1279.9 838,1282.2 839,1282.2 841,1280.4 843,1282 845,1279.4 847,1280.3 849,1277.8 852,1276.8 853,1276.7 855,1277.8 857,1277.8 858,1278.9 859,1279.1 861,1277.3 862,1277.4 864,1279.8 868,1277.6 871,1277.7 874,1276.3 875,1276.3 876,1277.4 877,1277.7 878,1276.7 879,1276.4 881,1277.8 882,1277.4 883,1277.5 885,1278.5 887,1278.4 889,1279.6 891,1279.5 892,1280.2 894,1283 896,1281.1 898,1281 901,1278.8 905,1277.6 907,1278.8 909,1281.1 911,1278.7 912,1278.7 913,1279.4 917,1277.2 918,1277.3 919,1278.2 921,1277.9 923,1279.4 924,1279.2 925,1278 926,1277.6 928,1280 930,1277.5 932,1278.1 934,1275.8 935,1275.1 936,1275 938,1275.3 940,1277.9 941,1278.6 943,1278.4 944,1278.7 948,1277.4 950,1277.7 952,1278.7 955,1277.9 957,1278.4 959,1277.8 961,1277.7 965,1274 967,1274 968,1274.7 969,1274.8 971,1272.7 973,1274.3 974,1274.4 975,1275.1 977,1276.9 978,1276.4 979,1275.1 980,1274.9 982,1276.9 984,1275.3 987,1276.6 989,1276.2 990,1276.8 992,1276.6 993,1277.4 994,1277.3 998,1275.7 1000,1273.9 1002,1275.6 1004,1274.8 1005,1274.8 1006,1275.4 1008,1274.4 1012,1276.7 1013,1275.9 1017,1270.7 1018,1271.4 1020,1275.6 1021,1276.2 1023,1275.3 1024,1275.2 1026,1277.5 1027,1277.8 1028,1277.1 1030,1278.3 1032,1277.2 1034,1278 1035,1277.9 1039,1276.5 1041,1277.2 1043,1279.1 1045,1277.3 1046,1277.6 1047,1278.6 1051,1278 1053,1279.1 1055,1279.3 1057,1281.6 1058,1281.4 1060,1278.6 1062,1278.4 1064,1277.1 1065,1276.9 1068,1277.1 1070,1278 1071,1278 1073,1280.7 1075,1279.1 1077,1279.3 1079,1277.5 1081,1277.2 1082,1278 1083,1279.7 1085,1280.9 1086,1280.4 1088,1276.6 1089,1275.8 1094,1279.4 1096,1276.5 1098,1277.5 1100,1276.4 1103,1275.9 1104,1276.6 1105,1278.1 1106,1278.1 1107,1277.1 1108,1277.6 1110,1280 1111,1280.2 1113,1276.9 1114,1276 1115,1276.3 1117,1279.5 1118,1279.7 1122,1278.6 1124,1279.5 1125,1279.2 1127,1280.7 1128,1281 1130,1279.5 1132,1281.1 1134,1279.6 1137,1278.4 1138,1278.1 1139,1278.7 1141,1276.6 1143,1277.9 1144,1277.7 1146,1276.1 1148,1276.5 1150,1276.2 1152,1279.2 1153,1279.6 1154,1278.1 1155,1277.5 1156,1278.6 1157,1278.7 1159,1276.4 1160,1276.6 1162,1279.1 1165,1278.1 1167,1279.5 1169,1278.4 1171,1278.5 1173,1280 1174,1279.7 1176,1276.3 1177,1275.8 1179,1277.2 1181,1275.8 1182,1275.8 1185,1277.7" fill="none" stroke="#be50f0" stroke-width="3.0" stroke-linejoin="round" />
<polyline points="221,1353.4 222,1353.9 223,1353.5 224,1352.4 225,1352.4 226,1353.2 227,1353.2 229,1351.5 230,1351.5 232,1354 236,1356.9 237,1356.5 239,1357 241,1355.5 243,1355.6 245,1353.2 248,1351.2 251,1352.7 254,1352.6 257,1353.5 258,1353.1 259,1353.4 261,1354.9 268,1354.4 269,1355.4 270,1355.8 272,1352.8 273,1352.4 275,1353.9 276,1353.9 277,1353.2 280,1352.4 282,1353.7 283,1353.7 287,1351.6 288,1351.8 290,1351.2 292,1353.7 296,1355.3 298,1356.7 299,1355.7 300,1353.6 301,1352.8 303,1353.2 306,1352.1 308,1352.8 311,1352.3 313,1350.8 315,1352.2 317,1351.9 319,1353.1 322,1351.6 325,1351.8 328,1351.3 330,1353.2 332,1350.9 333,1350.7 334,1351 336,1349.9 337,1349.9 340,1348.9 343,1346.9 345,1346.5 346,1345.3 347,1344.7 349,1345.7 352,1343.8 354,1345.4 355,1345.7 359,1345.6 360,1344.7 364,1344.7 365,1344.1 368,1344.4 369,1345.2 370,1345 372,1343.1 373,1343.4 375,1345.5 376,1345.8 377,1345.4 379,1342.6 380,1341.8 383,1341.3 385,1341.9 387,1337.9 388,1337.8 389,1338.5 391,1336.5 393,1337.8 394,1336.8 395,1336.6 397,1338.2 398,1337.7 401,1334.4 402,1334.7 404,1333.8 406,1336.5 407,1336.8 409,1335 410,1334.9 412,1336.5 414,1335.1 417,1335.6 420,1332.8 421,1333.1 422,1332.3 423,1330.7 425,1334 426,1334.5 428,1333.6 429,1334.1 431,1335.9 436,1334.1 438,1336.8 439,1337.8 440,1338.1 442,1335.5 443,1335 445,1336.4 447,1336.2 449,1338.3 452,1340.4 455,1341.9 458,1345.7 460,1345.2 462,1345.5 465,1347.9 467,1348.3 470,1353.5 471,1353.3 473,1354.1 476,1352.3 481,1346.6 483,1346.4 485,1347.1 486,1346.4 488,1346 490,1345 492,1342.1 494,1342.9 495,1342.4 496,1342.5 497,1342.1 498,1340.5 499,1340.1 501,1343.4 502,1342.7 503,1340.8 505,1340.2 507,1338.6 510,1337.8 512,1339 514,1337.4 516,1338.8 518,1338.1 521,1340.4 522,1339.8 523,1338.3 524,1338.1 528,1342.8 529,1343.1 531,1341.7 533,1341.3 536,1344 537,1344.2 538,1343.3 539,1343.2 542,1344.4 545,1344.8 547,1346.6 548,1346.1 550,1346.3 552,1345.4 554,1345.8 558,1344.2 560,1346 561,1345.5 562,1345.6 563,1346.1 565,1345.9 568,1346.6 570,1345.4 571,1345.5 573,1348 576,1347.3 579,1349.6 582,1348.8 585,1351.7 590,1349.2 591,1349.1 592,1349.6 596,1349.3 597,1349.8 599,1352.2 600,1352.7 603,1351.1 605,1353.8 607,1353.9 609,1356.3 610,1356.4 612,1354.5 613,1354.5 616,1356.5 617,1356 618,1354.7 619,1354.6 621,1358 623,1353.7 624,1353.5 625,1354.6 626,1354.7 627,1354.1 629,1355.8 630,1355.4 631,1353.7 632,1352.9 633,1353.4 636,1353.7 638,1351.8 639,1351.7 642,1353.6 644,1352.8 645,1352.9 647,1351.9 649,1352.1 651,1350.8 657,1356 660,1352.4 661,1352.7 663,1355.8 664,1356.2 666,1354.7 668,1355 669,1354.6 671,1355.7 673,1353.9 676,1358.8 679,1356.6 680,1356.6 682,1355.4 685,1355.6 687,1354.1 688,1354.5 689,1356.1 690,1356.6 692,1354.8 693,1354.5 694,1355.3 696,1354.1 698,1355.7 699,1355.7 703,1353.7 705,1354.1 706,1353.9 708,1354.5 709,1354.3 710,1354.7 711,1354.5 712,1353.6 714,1353 718,1353.3 723,1349.2 724,1350.6 725,1353.6 726,1355.3 728,1353.5 731,1355 735,1353.7 736,1353.8 738,1355.8 739,1355.5 741,1353 743,1355.1 746,1353 747,1353.1 748,1354 750,1353.3 751,1353.4 753,1354.8 755,1354.5 758,1356.7 759,1357 761,1353.3 762,1352.9 764,1356.2 765,1355.4 766,1353.6 767,1353.3 771,1355.7 773,1354.1 774,1354 777,1355.1 778,1354.5 779,1354.8 781,1357.8 782,1358.7 783,1358.6 784,1357.5 786,1354.3 787,1354.4 790,1355.9 791,1355.1 793,1355 795,1351.6 796,1351.5 800,1352.1 803,1354 807,1355.1 811,1354.9 813,1356.8 814,1357 817,1354.5 820,1354.1 823,1352.9 828,1356.6 830,1356.6 831,1357 833,1356.3 836,1357.4 837,1357.2 838,1356.4 840,1356.4 841,1355.5 842,1355.3 844,1356.9 847,1357.4 850,1354 851,1354.1 853,1356.5 855,1354.9 857,1354.1 859,1351.1 861,1351.8 862,1351.6 864,1352 865,1350.8 866,1350.8 867,1351.9 869,1352.4 871,1357.4 872,1356.5 875,1352.2 876,1352.6 877,1353.9 878,1353.8 880,1352.6 882,1352.7 885,1354.4 888,1355 890,1353.7 892,1354.1 894,1354 896,1355.3 897,1355.1 899,1353.5 901,1354.4 903,1353.6 904,1353.6 906,1356.5 907,1357 911,1355.3 912,1355.8 915,1354.5 916,1354.7 917,1356 918,1355.8 920,1352.5 921,1352.4 923,1353.8 926,1353.7 928,1352.5 932,1354.6 933,1354.6 935,1353.6 937,1354 939,1353 940,1353.6 942,1353.3 945,1355.2 946,1355 947,1353.9 948,1353.7 950,1355.5 951,1355.4 954,1357.2 955,1356.7 957,1354.7 958,1354.4 960,1355.2 963,1355.4 964,1354.6 965,1354.5 969,1356.5 971,1355.8 973,1356.2 975,1354.6 976,1354.8 978,1357.3 982,1355.4 983,1355.4 985,1354.6 988,1356 990,1354.4 992,1356 995,1355.5 996,1356.2 997,1356.3 998,1355.2 999,1355.2 1001,1357.3 1003,1354.4 1005,1355.8 1006,1353.8 1007,1352.8 1008,1353.1 1010,1354.8 1012,1355.2 1014,1353.6 1016,1351.3 1018,1353.1 1019,1352.3 1020,1352.7 1021,1354.4 1024,1356.3 1026,1354.5 1027,1354.2 1032,1356.1 1033,1356.1 1035,1354.4 1036,1354.3 1038,1355 1040,1352.3 1041,1351.7 1047,1354.8 1048,1355.1 1050,1354.2 1051,1354.6 1053,1357 1055,1358 1056,1356.9 1058,1351.7 1059,1351.3 1064,1356.8 1066,1355.6 1067,1355.7 1069,1354.1 1072,1356.9 1075,1354.9 1076,1353.5 1077,1353.2 1079,1353.2 1081,1356.2 1082,1355.9 1084,1353.3 1087,1353.3 1088,1353.1 1089,1352.3 1090,1352.5 1091,1354.4 1092,1355.3 1093,1354.2 1095,1353.2 1096,1353.1 1099,1356.8 1100,1356.8 1101,1355.5 1102,1354.8 1103,1354.7 1105,1353 1107,1354.6 1108,1354.4 1110,1355.2 1111,1354.7 1113,1351.7 1114,1351.4 1115,1352.3 1116,1352.4 1117,1351.3 1119,1350.7 1121,1352.4 1122,1352.7 1125,1351.1 1127,1352.5 1128,1352.7 1130,1351.6 1131,1351.8 1134,1354.7 1135,1355.1 1137,1352.9 1138,1353.1 1140,1353.7 1142,1356 1145,1354 1148,1353.6 1150,1354 1151,1353.5 1153,1354.1 1155,1353.7 1158,1354.8 1159,1354.5 1160,1353.4 1161,1353.3 1162,1354.5 1163,1355 1167,1352.8 1168,1353.4 1170,1356.1 1171,1356.6 1173,1354.6 1179,1355 1182,1356 1183,1355.6 1185,1357" fill="none" stroke="#109a30" stroke-width="3.0" stroke-linejoin="round" />
<polyline points="221,1430.4 223,1429.5 225,1431.1 227,1431.2 228,1432.5 229,1432.6 230,1431 231,1430.1 232,1430.3 238,1434.7 240,1433.9 243,1433.6 245,1430.3 246,1429.4 249,1430.3 250,1431 251,1431.1 253,1428.7 254,1429.2 255,1430.6 256,1430.7 257,1429.6 258,1429.7 260,1432.1 261,1431.3 263,1427.4 264,1427.5 266,1430.5 267,1430.6 270,1428.1 271,1428 275,1430.7 276,1431 278,1429.3 283,1430.2 284,1430 286,1428.6 288,1429.8 289,1429.9 291,1432.1 293,1429.5 294,1429.6 296,1432 298,1431.3 302,1434 303,1433.7 305,1431.3 308,1431.7 311,1430.9 313,1432.7 314,1432 316,1428.1 319,1431.4 320,1431.5 321,1430.9 323,1428.3 327,1430.7 332,1425.3 334,1426.3 335,1426.1 337,1427 338,1425.8 339,1425.6 340,1426.1 341,1425.8 343,1424.1 344,1423.8 346,1424.5 348,1424.2 350,1425.3 351,1425.1 353,1422.5 354,1421.8 356,1422 357,1421.3 358,1421.2 360,1422.5 363,1422.8 365,1421.8 368,1421.4 370,1419.5 373,1417.6 377,1419.2 378,1417.9 379,1415.6 380,1415.3 381,1416 383,1416.4 387,1416 389,1418.1 390,1418.2 393,1415.2 395,1415.7 396,1415.3 400,1417 403,1417 406,1416.2 408,1416.7 410,1414.5 411,1414.5 412,1415.3 414,1413.3 416,1413.5 419,1413 421,1415.2 423,1414 424,1414.3 426,1413 428,1412.3 429,1412.4 432,1414.3 434,1413.9 438,1414.2 440,1413.9 442,1415.9 443,1416.2 444,1415.9 445,1414.8 446,1414.6 449,1417.6 451,1420.2 452,1420.6 453,1420.7 455,1419.2 456,1419.1 458,1421.4 460,1422 462,1420.8 464,1420.4 465,1420.7 470,1428.3 471,1429.1 472,1429.2 474,1428.1 477,1424.5 479,1422.7 482,1417.5 483,1416.9 485,1418.7 486,1418.1 487,1416.2 488,1415.7 489,1416.3 491,1416.1 493,1416.6 495,1416.2 497,1415.2 499,1416.2 501,1415 502,1415 504,1412.5 507,1414.1 509,1413.7 511,1414.9 513,1414.7 516,1415.7 518,1415.9 520,1418.7 521,1419.4 523,1416.9 525,1417.9 527,1416.4 528,1416.4 530,1418 531,1418 533,1416.9 534,1417.1 536,1419.5 537,1419.7 540,1417.6 542,1414.8 543,1415.2 545,1417.2 550,1420.4 551,1420.4 556,1418.1 558,1419.3 564,1421.2 567,1421.3 569,1422.3 570,1421.6 571,1421.5 573,1422.7 576,1425.3 577,1425.4 578,1424.7 581,1423.8 583,1426 584,1426 586,1423.5 587,1423.6 589,1425.2 592,1425 595,1426.6 597,1426.1 598,1426.6 600,1429.7 602,1429.8 603,1430.5 604,1430.6 605,1430 606,1430.2 607,1431.1 608,1431 610,1428.7 613,1431.9 614,1431.8 616,1430.2 617,1430.3 619,1432.4 621,1430.5 623,1431.8 625,1430.8 627,1430.4 628,1431 630,1433.5 633,1431.9 635,1428.2 636,1428.5 639,1431.8 640,1432.4 641,1432.2 644,1429.6 647,1431.1 648,1432.2 650,1432.9 651,1432.6 654,1430.1 655,1430.3 656,1431.3 657,1431.5 659,1433.1 660,1432.5 661,1430.9 662,1430.3 664,1433.4 665,1433.4 667,1431.7 668,1432.1 669,1431.4 670,1429.4 671,1428.6 673,1431.1 674,1431.3 676,1430.3 678,1430.6 680,1430.2 682,1431.7 684,1430.8 686,1430.7 689,1432.2 690,1432.2 692,1431.1 696,1431.3 698,1432.2 701,1432.8 703,1430.8 705,1429.5 707,1431.7 708,1431.5 709,1430.4 710,1430.3 711,1430.8 713,1429.3 716,1427.9 717,1428.2 719,1430.1 721,1429.7 723,1430.7 725,1430.3 727,1430.9 730,1429.8 732,1430.4 733,1430.3 735,1432.6 738,1434.2 739,1434.2 741,1432.7 743,1433 745,1431 747,1432.7 748,1432.4 750,1430.5 751,1430.4 753,1431 755,1427.5 756,1426.9 759,1430.3 760,1430.1 762,1427.8 764,1431.2 765,1431.2 767,1429.2 768,1429.4 770,1432.3 771,1432.9 774,1432.6 776,1433.7 777,1433.3 779,1431.1 781,1432.4 783,1431 785,1432 786,1431.9 788,1431.1 790,1429.6 791,1429.7 794,1431.2 796,1431.2 798,1432.7 801,1433.3 804,1432.1 806,1433.1 807,1432.4 808,1431 809,1430.9 811,1432.7 812,1432.7 814,1430.3 817,1429.9 819,1428.3 820,1428.1 822,1430.7 824,1429.9 826,1430.5 827,1430 828,1430.9 830,1434.3 832,1432.9 834,1430 835,1429.7 837,1430.6 838,1430.5 839,1429.5 840,1429.3 842,1431.3 843,1430.2 844,1428.2 845,1428.3 846,1430.3 847,1430.6 848,1429.9 851,1430.6 855,1429.3 856,1430.1 858,1430.7 861,1434.2 862,1433.6 864,1430.5 866,1429 867,1428.4 869,1429.5 871,1427.1 874,1427.5 876,1429.5 878,1430.6 880,1432.2 883,1431.2 885,1429.5 886,1429.4 887,1430 889,1429 891,1430.3 893,1429.1 894,1428.8 895,1429.4 897,1428.2 899,1429.5 901,1429.9 902,1430.9 903,1431 905,1429.5 907,1431.3 909,1430.6 914,1430.7 915,1430.3 916,1429.1 917,1429 919,1430.7 921,1428.8 922,1429 923,1430.5 924,1430.7 925,1430.2 928,1430 930,1428.2 931,1428.4 933,1431.5 935,1428.7 936,1428.4 938,1429.5 941,1429.2 944,1430.1 947,1430 949,1428.1 951,1430.6 952,1430.8 957,1430.2 958,1430.3 959,1431.3 962,1431.9 964,1430.9 966,1432.3 968,1430.7 970,1430.7 972,1432.5 973,1432 975,1429 977,1430.8 979,1430.5 980,1431.4 981,1431.4 983,1429.2 985,1430.5 986,1430.3 988,1428.3 989,1428 992,1429.7 993,1429.4 995,1430.9 996,1430.8 999,1429.2 1002,1431.6 1004,1430.3 1007,1429.2 1009,1430.7 1012,1427.9 1013,1428.1 1015,1430 1017,1427.3 1018,1426.4 1019,1426.2 1022,1428.8 1025,1428.8 1026,1428.5 1028,1426.7 1029,1427.1 1031,1430.1 1033,1431.9 1034,1432 1035,1431.4 1036,1431.6 1038,1433.2 1039,1432.9 1040,1431.3 1041,1430.8 1043,1431.6 1045,1431.4 1047,1432.4 1049,1431 1051,1432.9 1053,1432.5 1055,1430.8 1058,1431.1 1059,1431.9 1060,1431.8 1062,1428.6 1063,1428.4 1068,1431.7 1070,1430.1 1074,1430.6 1076,1428.6 1079,1429.4 1080,1429.4 1082,1428.4 1083,1428.8 1084,1430.2 1085,1430.6 1086,1430.3 1088,1431.2 1089,1430.6 1091,1432.2 1094,1433.7 1096,1432 1098,1431.1 1100,1431.9 1103,1428.5 1104,1428.1 1108,1430.5 1110,1428.7 1112,1431 1115,1431.2 1119,1429.6 1121,1430.6 1123,1430 1125,1430.4 1126,1429.3 1127,1429.8 1128,1431.5 1129,1431.9 1131,1431.4 1134,1431.5 1137,1430.3 1139,1431.3 1140,1431.3 1142,1432.6 1144,1431.6 1145,1431.7 1146,1432.9 1147,1433.4 1153,1431 1157,1434.4 1158,1434.7 1160,1431.5 1161,1431.3 1163,1432.7 1164,1432.6 1165,1431.2 1166,1430.9 1167,1431.7 1168,1431.4 1172,1428.5 1173,1428.7 1175,1430.6 1179,1428.8 1180,1429.2 1182,1431.5 1183,1431.5 1185,1432.8" fill="none" stroke="#1040e6" stroke-width="3.0" stroke-linejoin="round" />
<polyline points="221,1507.2 223,1505.2 224,1505.5 226,1507.7 228,1508.3 229,1507.9 231,1505.1 233,1506.6 234,1506.8 236,1505.6 237,1505.7 238,1506.2 239,1508 240,1508.7 241,1507.8 242,1508.3 243,1509.8 244,1510.1 246,1506.9 247,1506 248,1506 249,1506.9 253,1505.9 254,1506 256,1507 257,1506.7 258,1505.6 259,1505.2 260,1505.6 261,1507.1 262,1507.7 263,1505.5 264,1504.4 266,1508 267,1508.5 269,1507.2 270,1507 273,1505.4 274,1505.2 276,1505.9 278,1503 280,1504.7 281,1504.5 283,1502.8 284,1503.7 285,1505.6 286,1506.4 287,1506.1 289,1503.8 290,1504.1 291,1505.9 292,1506 293,1504.3 294,1503.7 297,1505.2 299,1507.2 300,1506.7 301,1505.5 305,1506.3 307,1504.7 308,1505.1 309,1506.3 310,1506.5 311,1505.7 313,1506.4 315,1505.6 318,1505.1 321,1506.1 322,1506.9 325,1503.8 328,1503.7 331,1501.5 333,1501.5 334,1501.1 335,1501.3 337,1503.5 339,1503.9 341,1501.1 344,1498.5 347,1499 350,1501.5 351,1501.6 353,1499.2 354,1498.8 357,1500.8 359,1501.2 361,1499.2 364,1498.2 366,1499.7 368,1499.5 369,1500.2 370,1500.3 371,1499.5 373,1500 374,1499.3 376,1495 377,1495.2 378,1497.8 379,1499 381,1495.7 382,1495.2 384,1495.2 386,1493.8 387,1494.1 389,1492.6 391,1492.6 393,1493.6 398,1491.8 400,1492.8 404,1491.9 407,1492.4 408,1492 409,1490.7 410,1490.2 411,1490.5 413,1490 415,1491.7 416,1491.1 419,1486.9 421,1486.7 423,1486 424,1486.5 426,1489.3 427,1490 429,1490.4 431,1493.7 435,1488.1 438,1491 440,1488.6 441,1488.9 442,1490.3 444,1489.6 445,1490.1 447,1489 449,1492.4 453,1493.1 455,1495 457,1493.4 458,1493.1 459,1494.1 461,1498.2 462,1499 463,1498.7 464,1497.7 465,1497.7 467,1501.2 468,1502 470,1501.4 472,1503.6 473,1503.8 477,1499.1 479,1498.8 480,1498.2 481,1496.8 482,1496.4 484,1498.5 485,1498.2 488,1494.8 490,1497.6 494,1493.6 496,1493.7 499,1491.4 501,1490.9 503,1491.3 504,1490.8 506,1492.3 508,1490.8 510,1490.7 512,1489.1 513,1489 516,1493 517,1493.1 519,1491.4 523,1491.2 524,1490.7 525,1490.7 527,1492.2 529,1492.7 531,1492.6 533,1491.3 534,1491.2 536,1494.9 537,1495.3 539,1494.4 541,1492.9 543,1494 545,1493.9 549,1495.5 551,1495.1 553,1496.1 554,1496.2 556,1495.1 557,1495.5 561,1499.4 563,1498.5 564,1498.8 566,1497.8 570,1501.6 572,1500.9 573,1499.4 574,1498.9 576,1500.7 577,1500.8 578,1501.6 581,1501.2 582,1501.7 583,1502.8 584,1502.8 585,1501.9 588,1501.6 593,1504.2 594,1504 595,1502.4 596,1501.9 598,1506.3 599,1507.2 601,1505.9 603,1505.9 604,1505.4 606,1505.3 608,1505.9 611,1505.4 613,1503 614,1502.9 616,1503 620,1506.5 623,1505.8 628,1503.3 632,1504 634,1505.7 636,1504.9 638,1505.8 642,1505.1 644,1506.6 647,1506.1 651,1507.2 653,1506.4 655,1506.7 660,1505.2 663,1507.1 664,1507.2 666,1504.6 667,1504.6 668,1505 670,1507 671,1506.8 672,1505.8 675,1504 676,1503.9 680,1507 683,1507.7 685,1505.5 686,1505.5 688,1507.6 689,1507.3 691,1505.6 693,1505.6 695,1504.1 698,1506.5 699,1506.3 700,1505 701,1504.7 703,1506.3 704,1506.4 706,1505 708,1506.9 710,1508 711,1508 712,1506.8 713,1506.4 715,1507 718,1505.7 719,1505.7 721,1506.7 722,1506.2 724,1503.4 725,1502.6 730,1506.7 731,1506.6 736,1503.9 738,1502.1 739,1502.7 741,1505.2 744,1504.1 745,1502.9 746,1502.7 748,1506 749,1506.3 750,1506.3 752,1504.6 753,1504.4 755,1505.1 757,1504.8 759,1505.8 761,1504.3 763,1507.3 764,1507 766,1504.6 768,1506 770,1504.4 771,1504.4 772,1505.1 775,1505.8 777,1505.3 778,1506 779,1505.8 781,1503.3 782,1503.4 784,1505 785,1505.2 786,1504.3 788,1503.6 789,1503.8 791,1506.6 792,1506.7 795,1504.4 796,1504.5 798,1503.9 800,1505.5 801,1505.3 803,1506.6 804,1506.7 806,1510.2 807,1510 808,1508 809,1507.5 810,1507.5 811,1506.7 812,1506.6 813,1507.6 814,1507.6 816,1508.5 818,1506.5 822,1507 824,1504.8 826,1507.1 828,1505.8 830,1505.8 833,1503.9 835,1504.8 836,1503.6 837,1503.6 838,1504.9 839,1505.3 840,1505.3 842,1504.6 845,1506 847,1506.2 851,1508.3 853,1508 855,1508.1 857,1506.4 858,1506.5 860,1509.2 861,1509.8 864,1505.9 865,1505.3 867,1505.1 870,1503 873,1504.1 874,1503.8 875,1502.8 876,1502.8 878,1505.3 879,1505.6 880,1504.6 881,1504.7 883,1507.1 885,1507 887,1508.4 889,1507.6 891,1508.9 893,1508.3 895,1508.8 897,1506.3 898,1505.9 903,1507.8 907,1505.5 908,1505.4 910,1508.7 913,1508.6 918,1506.8 921,1504.1 922,1504.8 923,1506.3 924,1505.8 925,1504 926,1503.9 928,1506.5 932,1506.6 935,1507.9 937,1507 940,1507.5 942,1510.2 943,1510.3 946,1509.2 950,1504.7 952,1505.5 955,1504.2 959,1505.2 960,1505 961,1504.1 962,1504.2 963,1505.4 965,1506.3 966,1505.9 968,1502.1 969,1502 972,1504.3 974,1504 976,1504.8 978,1505 979,1505.7 981,1509.5 982,1509 983,1507.7 984,1507.5 988,1507.3 989,1508.3 990,1508.2 991,1506.4 992,1505.5 994,1506.9 996,1506.2 998,1507.3 1002,1504.4 1005,1503.7 1007,1506.3 1010,1505.9 1014,1506.2 1017,1501.6 1019,1503.6 1021,1503.5 1024,1506.9 1025,1506.8 1026,1505.8 1027,1505.6 1029,1505.8 1031,1506.9 1032,1506.5 1035,1502.8 1037,1503.6 1041,1502.7 1044,1507.3 1047,1508.7 1050,1506.6 1051,1506.7 1053,1508.1 1054,1507.8 1056,1506.2 1059,1505.7 1061,1507.3 1063,1508.1 1064,1508 1066,1506.2 1068,1506.5 1071,1505.7 1074,1507.5 1080,1507.4 1081,1507.8 1084,1507.5 1085,1506.9 1089,1507 1092,1505.7 1094,1507.7 1095,1508.1 1097,1505.9 1098,1505.4 1103,1506.7 1105,1506 1107,1506.6 1109,1503.8 1112,1504.1 1113,1504.7 1114,1504.2 1116,1504.5 1118,1503.7 1119,1504.4 1121,1505 1122,1506.3 1123,1506.6 1124,1505.9 1127,1505.5 1129,1507.2 1131,1507 1134,1508.6 1135,1508.2 1137,1505.2 1139,1505.6 1140,1504.4 1141,1503.9 1145,1506.9 1148,1504.2 1149,1505 1150,1506.6 1151,1507.1 1152,1506.7 1154,1507.3 1156,1506.4 1158,1506.3 1161,1506.8 1163,1505.4 1165,1508.2 1166,1508.9 1167,1508.4 1169,1509.5 1173,1506 1175,1503.5 1176,1503 1177,1503.5 1179,1506.5 1180,1507 1182,1507.3 1185,1509.3" fill="none" stroke="#f01010" stroke-width="3.0" stroke-linejoin="round" />
<polyline points="221,1569.4 222,1569.3 223,1570.6 224,1570.7 225,1569.7 227,1569.9 228,1569.3 229,1569.4 232,1570.9 233,1570.7 234,1571.1 236,1572.8 238,1573.3 239,1573.2 241,1571.5 244,1571.9 245,1572.2 247,1575 248,1575.5 251,1574.3 252,1574.6 254,1572.9 255,1572.8 257,1571.8 258,1572.4 262,1573.4 264,1571.3 265,1571.5 269,1574.8 270,1574.6 271,1573.1 272,1572.8 274,1574.7 275,1574.7 277,1573.2 278,1573.4 281,1571.2 283,1571.1 284,1570.3 285,1570.3 288,1572.7 289,1572.8 290,1572.1 291,1572.5 292,1572.3 293,1570.7 294,1570.3 295,1571.2 298,1569.9 300,1568.3 302,1569 304,1569.1 305,1569.8 307,1568.8 308,1569.2 310,1571.4 312,1570.6 313,1570.7 314,1571.4 315,1571.3 316,1570.7 318,1570.3 319,1569.2 320,1568.9 322,1569.4 324,1570.9 326,1569.7 327,1569.6 330,1571.1 331,1570.5 332,1569.1 333,1568.8 334,1569.5 337,1570.3 338,1569.7 340,1569.7 342,1567.4 343,1567 345,1563 347,1563.9 349,1563.3 351,1564.7 354,1564.3 356,1565.5 358,1564 360,1566.6 361,1566.2 362,1565 364,1561.7 365,1561.5 367,1562.1 368,1561.5 369,1561.6 370,1562.9 371,1563.3 373,1561.4 374,1561.3 376,1562.7 378,1560.5 380,1560.8 383,1559.4 384,1558.5 386,1559.2 388,1558.8 390,1559.3 392,1560.8 393,1560.3 395,1558.1 396,1558.5 397,1558.1 399,1553.9 400,1555.5 401,1556.3 402,1555.1 403,1554.8 404,1555.6 405,1555.7 406,1555.3 408,1556.1 410,1556.3 412,1554.8 414,1555.1 415,1554.7 416,1553.4 417,1552.9 419,1554.9 421,1553.9 424,1554.4 428,1553.6 431,1554.5 434,1556.1 436,1555.5 438,1553.7 440,1554.3 442,1553.7 445,1556.7 447,1556.9 449,1556.6 451,1557.5 453,1559.2 458,1559.5 460,1562.6 462,1563.4 463,1563.3 464,1564.1 465,1565.8 467,1567.6 469,1571.2 470,1571.8 472,1571.2 474,1571.3 475,1570.4 478,1564.4 479,1563.2 481,1561.9 483,1563 484,1562.8 488,1559.5 490,1557.2 492,1560.2 493,1560.2 494,1559.2 496,1558.3 499,1556.2 500,1556.5 504,1554.7 505,1554.9 506,1555.7 508,1556.1 510,1555.3 512,1553.5 513,1553.7 514,1554.8 516,1558 520,1555.5 522,1557.4 524,1556.7 525,1558.3 526,1558.9 528,1555.8 529,1555.9 532,1558.4 534,1557.8 535,1558 540,1555.1 541,1555.5 543,1557.9 546,1560 548,1557.6 549,1557.7 551,1561.2 552,1561.2 553,1559.7 554,1559.1 556,1560.8 559,1560.5 561,1562.2 563,1563.1 564,1562.7 566,1561 568,1562.8 570,1563.7 572,1565.3 573,1565.5 575,1565.1 577,1567.9 578,1568.5 582,1565.6 584,1569.4 585,1570 589,1568.5 591,1568.9 592,1569.7 593,1569.3 596,1566.9 597,1566.6 598,1566.7 600,1568.6 603,1569.6 605,1568.2 607,1569.9 611,1571.6 613,1571.6 615,1570.7 617,1571.4 618,1570.6 619,1568.9 620,1568.6 622,1571.4 623,1571.6 624,1571.3 626,1569.2 627,1569.4 629,1570.7 631,1571.1 632,1572.4 633,1572.8 634,1571.4 635,1571 637,1571.7 640,1572.1 642,1571.1 644,1571.4 647,1569.1 648,1568.9 649,1569.5 650,1570.9 651,1571.3 653,1569.6 654,1570.2 655,1571.8 656,1572.1 657,1570.9 659,1569.8 660,1568.6 661,1568.3 663,1571 667,1568.6 668,1568.3 670,1570.4 672,1569.9 673,1570.4 674,1570.4 676,1569.1 678,1570.1 680,1568.4 682,1568.2 684,1569.5 686,1570.1 688,1570.2 690,1571.8 691,1572.1 692,1571.9 694,1569 695,1568.3 696,1568.8 698,1572.6 699,1572.7 700,1572.5 702,1570.5 705,1572.3 706,1572.4 708,1571.2 711,1570.7 715,1575.6 717,1575.5 718,1574.6 719,1572.5 720,1572.4 721,1572.9 722,1572.8 723,1573.8 724,1573.6 725,1572.2 726,1571.9 728,1574.1 732,1571.7 734,1568.1 736,1569.3 738,1568.6 739,1569.3 741,1573.3 742,1572.9 743,1571.1 744,1570.3 745,1570.7 747,1573.1 752,1572.1 754,1573.9 757,1573.5 758,1574.3 759,1574.4 760,1572.9 761,1572.2 764,1571.9 766,1573.3 768,1572.2 769,1573.5 770,1574.1 772,1572.5 773,1572.2 776,1573.6 778,1575.4 779,1575.2 781,1573.3 783,1573.1 784,1572.4 785,1572.5 786,1573.2 787,1572.4 788,1570.9 789,1571.1 791,1573.5 793,1572.2 794,1572.1 795,1572.7 797,1573 799,1572.2 801,1572.3 803,1570.3 805,1571.7 806,1571.5 808,1570.2 809,1570.8 811,1569 812,1568.8 814,1570.4 816,1571.1 818,1569.2 819,1569.4 822,1571.7 825,1571.1 827,1569.4 829,1570.6 830,1570.6 831,1569.7 833,1569.9 834,1568.7 835,1568.6 837,1569.8 840,1573 842,1572.1 845,1572 847,1570.5 849,1571.9 852,1571.8 853,1570.5 854,1570.1 856,1570.5 858,1572.5 859,1572.3 860,1572.7 861,1573.9 864,1574.2 865,1573.5 867,1570.3 868,1569.9 870,1569.7 872,1570.8 873,1570.6 874,1569.6 877,1569.3 880,1570.9 881,1571.2 883,1570.7 885,1571.4 888,1567.6 889,1567.1 892,1570.3 895,1570.8 897,1572.5 898,1572.8 899,1572.4 902,1572.4 904,1574.9 905,1575.5 907,1574.9 911,1576.2 916,1575.2 917,1575.5 919,1574.5 920,1574.8 921,1574.4 922,1573.2 924,1572.5 925,1571.5 926,1571.1 927,1571.5 928,1571.3 929,1570.3 930,1569.9 932,1570.4 933,1569.8 934,1570.1 935,1571.5 936,1571.7 939,1568.8 940,1568.9 941,1570.4 942,1571 944,1569.5 949,1571.9 951,1570.4 952,1570.6 953,1571.7 955,1572.7 956,1572.7 960,1569.7 966,1571.9 969,1569.6 973,1570.4 975,1569.5 978,1570.6 980,1572.1 982,1570.6 984,1572.6 985,1572 986,1569.9 987,1568.9 989,1570.4 991,1569.4 994,1572 996,1572.6 998,1574.2 999,1574.4 1001,1572.7 1002,1572.5 1004,1573.4 1011,1571.9 1013,1569.8 1015,1570.1 1017,1567.8 1018,1567.6 1019,1568.7 1020,1568.8 1021,1568.1 1023,1569.3 1025,1569.2 1027,1571.8 1029,1570.4 1032,1574 1033,1574.3 1035,1573.6 1037,1571.1 1039,1569.9 1040,1569.9 1042,1573.4 1046,1571.5 1048,1574.2 1049,1574.2 1051,1572.7 1052,1572.4 1054,1574.9 1055,1575.2 1057,1572.7 1058,1572.3 1059,1572.7 1061,1571.8 1063,1571.5 1066,1567.7 1067,1567.5 1068,1568.2 1070,1571 1072,1570.7 1074,1571.9 1081,1569.1 1086,1569.9 1088,1569.2 1089,1569.4 1090,1570 1092,1572.5 1094,1574 1096,1573 1097,1573.1 1099,1570.8 1102,1571.9 1105,1574.1 1108,1569.3 1109,1569.8 1111,1572 1114,1571.1 1116,1572.4 1117,1572.3 1118,1572.8 1119,1572.5 1120,1570.9 1121,1570.7 1122,1572.1 1125,1573.9 1127,1572.2 1129,1571.1 1130,1571 1131,1571.8 1134,1572.7 1135,1572.4 1136,1573.1 1137,1573.1 1139,1572.2 1142,1572.8 1144,1573.8 1147,1570.9 1148,1570.6 1150,1572.4 1151,1572.7 1152,1572.5 1154,1570 1155,1569.5 1157,1573.7 1159,1571.8 1160,1571.9 1162,1574.9 1163,1575 1164,1573.7 1166,1574.5 1168,1572 1170,1572.9 1172,1572.8 1173,1573.3 1175,1571.7 1176,1572.5 1177,1572.5 1179,1570.6 1181,1571.1 1183,1570.6 1185,1571.5" fill="none" stroke="#000000" stroke-width="3.0" stroke-linejoin="round" />
<line x1="431.6" y1="1088.5" x2="431.6" y2="1578.0" stroke="#000" stroke-width="4.0" stroke-linecap="round" stroke-dasharray="14.30 20.80" stroke-dashoffset="-1.60"/>
<line x1="431.6" y1="1581.0" x2="431.6" y2="1584.5" stroke="#000" stroke-width="3.4" stroke-linecap="butt"/>
<line x1="515.3" y1="1090.3" x2="515.3" y2="1579.0" stroke="#000" stroke-width="4.0" stroke-linecap="round" stroke-dasharray="14.30 20.80" stroke-dashoffset="-1.60"/>
<line x1="515.3" y1="1582.0" x2="515.3" y2="1585.5" stroke="#000" stroke-width="3.4" stroke-linecap="butt"/>
<rect x="219.5" y="906.6" width="966.7" height="720.9" fill="none" stroke="#000" stroke-width="3.2"/>
<text x="221.2" y="1684.8" font-size="44" text-anchor="middle" >2300</text>
<line x1="380.0" y1="1608.5" x2="380.0" y2="1627.5" stroke="#000" stroke-width="3" stroke-linecap="butt"/>
<text x="379.6" y="1684.8" font-size="44" text-anchor="middle" >2200</text>
<line x1="541.3" y1="1608.5" x2="541.3" y2="1627.5" stroke="#000" stroke-width="3" stroke-linecap="butt"/>
<text x="541.2" y="1684.8" font-size="44" text-anchor="middle" >2100</text>
<line x1="702.7" y1="1608.5" x2="702.7" y2="1627.5" stroke="#000" stroke-width="3" stroke-linecap="butt"/>
<text x="701.5" y="1684.8" font-size="44" text-anchor="middle" >2000</text>
<line x1="864.0" y1="1608.5" x2="864.0" y2="1627.5" stroke="#000" stroke-width="3" stroke-linecap="butt"/>
<text x="863.6" y="1684.8" font-size="44" text-anchor="middle" >1900</text>
<line x1="1025.3" y1="1608.5" x2="1025.3" y2="1627.5" stroke="#000" stroke-width="3" stroke-linecap="butt"/>
<text x="1024.2" y="1684.8" font-size="44" text-anchor="middle" >1800</text>
<text x="1182.1" y="1684.8" font-size="44" text-anchor="middle" >1700</text>
<text x="644.3" y="1746.0" font-size="44" text-anchor="start" font-style="italic" >v</text>
<text x="669.6" y="1746.3" font-size="47" text-anchor="start" >/</text>
<text x="681.0" y="1746.0" font-size="44" text-anchor="start" >cm</text>
<text x="736.7" y="1730.6" font-size="24.5" text-anchor="start" >−</text>
<text x="752.7" y="1730.6" font-size="24.5" text-anchor="start" >1</text>
<text x="648.5" y="1747.2" font-size="42" text-anchor="start" >˜</text>
<rect x="249.6" y="931.2" width="4.0" height="72.5" fill="#000"/>
<rect x="244.8" y="931.2" width="13.5" height="3.0" fill="#000"/>
<rect x="244.8" y="1000.7" width="13.5" height="3.0" fill="#000"/>
<text x="277.0" y="983.0" font-size="44" text-anchor="start" >0.25</text>
<text x="1166.7" y="958.7" font-size="45.5" text-anchor="end" >(C)</text>
<text x="302.5" y="1062.5" font-size="44" text-anchor="start" letter-spacing="-0.35" >Pd<tspan font-size="28" dy="-20">2+</tspan><tspan dy="20">-CO</tspan></text>
<text x="481.5" y="1062.5" font-size="44" text-anchor="start" letter-spacing="-0.35" >Cu<tspan font-size="28" dy="-20">+</tspan><tspan dy="20">-CO</tspan></text>
<text x="1114.2" y="1122.6" font-size="44" text-anchor="end" >35 min</text>
<text x="1114.2" y="1185.0" font-size="44" text-anchor="end" >30 min</text>
<text x="1114.2" y="1264.2" font-size="44" text-anchor="end" >25 min</text>
<text x="1114.2" y="1337.6" font-size="44" text-anchor="end" >20 min</text>
<text x="1114.2" y="1411.5" font-size="44" text-anchor="end" >15 min</text>
<text x="1114.2" y="1487.5" font-size="44" text-anchor="end" >10 min</text>
<text x="1114.2" y="1558.8" font-size="44" text-anchor="end" >5 min</text>
<rect x="1650.0" y="1016.8" width="32.4" height="610.7" fill="#ffa20c"/>
<rect x="1682.2" y="1016.8" width="78.1" height="610.7" fill="#00ffff"/>
<rect x="1950.6" y="1016.8" width="69.2" height="294.5" fill="#7f7f7f"/>
<rect x="1968.5" y="1311.0" width="70.7" height="316.5" fill="#ff66ff"/>
<rect x="1952.0" y="1019.0" width="66.0" height="290.0" fill="url(#pg)" opacity="0.25"/>
<rect x="1970.0" y="1314.0" width="68.0" height="310.5" fill="url(#pm)" opacity="0.5"/>
<polyline points="1391.1,1076.9 1405.1,1079.7 1407.1,1078.9 1411.1,1075.1 1413.1,1074.7 1418.1,1077.2 1429.1,1078.3 1437.1,1080 1439.1,1079.6 1442.1,1078.4 1446.1,1078.2 1450.1,1078.5 1454.1,1078.3 1462.1,1076.5 1467.1,1078 1469.1,1078.2 1472.1,1077.9 1476.1,1076.8 1479.1,1076.6 1483.1,1077 1488.1,1078.1 1500.1,1077.4 1504.1,1077.9 1509.1,1076.7 1513.1,1077.8 1517.1,1077.1 1522.1,1078 1528.1,1077.5 1534.1,1077.5 1538.1,1078 1545.1,1077.3 1550.1,1077.9 1553.1,1077.3 1557.1,1077.3 1562.1,1078.1 1566.1,1077.8 1569.1,1078 1572.1,1077.4 1576.1,1077.9 1581.1,1077.6 1587.1,1078.5 1592.1,1077.4 1595.1,1077.2 1599.1,1077.4 1603.1,1078.4 1610.1,1076.9 1615.1,1075.1 1619.1,1075.4 1623.1,1075.1 1626.1,1075.8 1632.1,1074.6 1639.1,1074.8 1644.1,1074.5 1656.1,1075.3 1658.1,1075 1661.1,1073.9 1669.1,1074.2 1675.1,1073 1677.1,1073.4 1680.1,1075 1688.1,1076.6 1694.1,1078.9 1696.1,1079.2 1707.1,1077.3 1712.1,1075.7 1726.1,1075 1738.1,1076.1 1743.1,1074.7 1749.1,1075.6 1751.1,1075.5 1754.1,1074.9 1756.1,1074.9 1759.1,1075.6 1763.1,1077.1 1768.1,1076 1775.1,1078.1 1781.1,1077 1789.1,1077.9 1794.1,1077.5 1799.1,1078.1 1802.1,1077.8 1806.1,1078.1 1809.1,1077.6 1814.1,1077.6 1818.1,1076.8 1822.1,1077.4 1826.1,1076.8 1827.1,1076.9 1830.1,1078.1 1832.1,1078.4 1837.1,1076.6 1842.1,1077.6 1847.1,1076.8 1854.1,1078.1 1860.1,1078.2 1864.1,1077.6 1868.1,1078 1871.1,1076.8 1873.1,1076.5 1878.1,1077.3 1883.1,1077.2 1887.1,1077.9 1893.1,1078.1 1898.1,1077.7 1903.1,1078 1906.1,1077.5 1913.1,1078.6 1915.1,1078.4 1919.1,1077 1926.1,1077.9 1931.1,1076.9 1935.1,1077.6 1938.1,1077.5 1945.1,1078.2 1949.1,1077.8 1953.1,1079.2 1954.1,1079.3 1959.1,1077.5 1962.1,1077 1968.1,1078.2 1970.1,1078.1 1974.1,1077 1983.1,1078.3 1994.1,1077.7 2000.1,1077.7 2006.1,1078.7 2011.1,1078.3 2018.1,1078.6 2024.1,1077.4 2027.1,1077.8 2031.1,1077.4 2036.1,1078.3 2040.1,1077.5 2043.1,1077.6 2047.1,1077.2 2051.1,1078.3 2060.1,1078.7 2070.1,1077.1 2074.1,1077.7 2077.1,1077.2 2080.1,1077.4 2083.1,1077.1 2090.1,1078.7 2095.1,1077.6 2112.1,1078.1 2117.1,1078.9 2122.1,1077.9 2129.1,1078.3 2135.1,1077.3 2150.1,1077.9 2154.1,1077.5 2158.1,1078.1 2161.1,1077.7 2164.1,1077.7 2167.1,1077.1 2173.1,1077.7 2177.1,1077.2 2181.1,1077.4 2184.1,1076.9 2190.1,1078.4 2193.1,1078.7 2195.1,1078.5 2199.1,1076.9 2209.1,1078.4 2215.1,1077.5 2218.1,1077.5 2224.1,1079.5 2230.1,1078.1 2235.1,1077.5 2240.1,1078.3 2245.1,1078.5 2249.1,1078 2252.1,1078.4 2257.1,1077.4 2260.1,1077.6 2264.1,1077.4 2268.1,1078.3 2273.1,1077.2 2275.1,1077.1 2280.1,1078.5 2283.1,1078.2 2287.1,1078.5 2292.1,1077.1 2297.1,1078.7 2302.1,1077.9 2305.1,1076.8 2307.1,1076.5 2316.1,1077.6 2329.1,1077.4 2334.1,1076.5 2339.1,1077.1 2343.1,1077 2348.1,1077.3 2355.1,1076.8" fill="none" stroke="#1a0a22" stroke-width="3.0" stroke-linejoin="round" />
<polyline points="1391.1,1140.2 1393.1,1140 1396.1,1140.5 1399.1,1140.4 1400.1,1140.8 1403.1,1143.1 1404.1,1143.3 1406.1,1142.3 1410.1,1139.1 1412.1,1138.5 1413.1,1138.8 1417.1,1141.2 1420.1,1142.4 1422.1,1142.8 1424.1,1142.2 1427.1,1140.8 1430.1,1140.2 1432.1,1140.3 1437.1,1141.2 1443.1,1140.4 1447.1,1141.7 1450.1,1141.6 1454.1,1142.2 1457.1,1141.5 1461.1,1141.9 1465.1,1140.2 1468.1,1139.6 1479.1,1141.7 1489.1,1141.1 1494.1,1142 1496.1,1142.1 1504.1,1140.5 1517.1,1141.6 1522.1,1140.5 1527.1,1140.9 1530.1,1140.5 1537.1,1141.5 1542.1,1141.4 1546.1,1140.2 1550.1,1140.6 1554.1,1139.9 1559.1,1140.7 1563.1,1139.6 1568.1,1140.1 1575.1,1139.6 1588.1,1139.5 1595.1,1140 1600.1,1138.6 1605.1,1138.6 1609.1,1137.6 1614.1,1138.5 1617.1,1138.3 1622.1,1139.1 1624.1,1138.4 1627.1,1136.6 1628.1,1136.2 1633.1,1137 1638.1,1135.5 1644.1,1136 1655.1,1136.2 1660.1,1137.3 1661.1,1137.3 1665.1,1135.6 1666.1,1135.5 1672.1,1136.2 1676.1,1135.8 1677.1,1135.9 1682.1,1138.7 1686.1,1139 1689.1,1139.9 1693.1,1139.7 1696.1,1141.3 1698.1,1141.8 1708.1,1138.9 1712.1,1137.2 1714.1,1136.9 1723.1,1136.7 1729.1,1135.6 1732.1,1136.4 1736.1,1136.2 1740.1,1136.5 1746.1,1135.4 1751.1,1137.4 1757.1,1137.2 1761.1,1138.4 1765.1,1138 1769.1,1138.7 1776.1,1137.8 1783.1,1138.8 1787.1,1140.5 1789.1,1140.9 1791.1,1140.8 1794.1,1139.9 1795.1,1139.8 1799.1,1141 1802.1,1140.7 1808.1,1141.1 1812.1,1142.2 1817.1,1141.8 1822.1,1140.7 1828.1,1142.3 1833.1,1141 1835.1,1140.7 1840.1,1140.9 1843.1,1141.5 1847.1,1141.1 1851.1,1142.2 1855.1,1141.2 1859.1,1141.7 1873.1,1141.3 1876.1,1141.6 1880.1,1140.6 1884.1,1141.2 1888.1,1140.5 1893.1,1141.8 1896.1,1141.9 1898.1,1141.8 1902.1,1140.8 1907.1,1141.3 1912.1,1141 1921.1,1142.2 1926.1,1141.6 1930.1,1142.1 1935.1,1141.2 1941.1,1141.5 1945.1,1140.4 1947.1,1140.1 1951.1,1140.9 1958.1,1141.5 1962.1,1141.2 1966.1,1142.2 1969.1,1142.6 1971.1,1142.3 1975.1,1141 1980.1,1141 1984.1,1140.6 1989.1,1141.4 1992.1,1141.4 1995.1,1142.2 1996.1,1142.2 2000.1,1141.1 2006.1,1141.8 2011.1,1140.1 2022.1,1142 2027.1,1141 2033.1,1141.5 2037.1,1141.4 2042.1,1142.4 2046.1,1141.8 2052.1,1141.7 2057.1,1142.2 2061.1,1141.5 2072.1,1142.6 2077.1,1141.8 2082.1,1141.5 2086.1,1141.7 2090.1,1140.9 2094.1,1142.3 2101.1,1141.1 2109.1,1141.3 2113.1,1140.7 2117.1,1141 2123.1,1140.3 2127.1,1140.9 2129.1,1140.9 2133.1,1142.5 2134.1,1142.6 2139.1,1141.9 2143.1,1141 2146.1,1141.3 2151.1,1140.5 2157.1,1141.5 2165.1,1140.4 2172.1,1141.1 2176.1,1142.4 2179.1,1142.6 2184.1,1141.3 2188.1,1141 2191.1,1140.2 2193.1,1140.7 2196.1,1142 2199.1,1142.4 2206.1,1141.5 2210.1,1142.4 2214.1,1141.6 2217.1,1142 2220.1,1141.6 2224.1,1142.1 2230.1,1142.4 2237.1,1140.8 2249.1,1142.5 2253.1,1141.2 2258.1,1142.2 2260.1,1142.2 2268.1,1140.7 2274.1,1141.3 2278.1,1140.8 2283.1,1141.5 2290.1,1140.7 2294.1,1141.4 2298.1,1141.1 2302.1,1141.7 2308.1,1140.7 2318.1,1141.5 2323.1,1141.2 2327.1,1141.9 2330.1,1141.6 2334.1,1142.1 2340.1,1140.7 2345.1,1141.3 2349.1,1141.2 2352.1,1140.8 2355.1,1141.3" fill="none" stroke="#e89a00" stroke-width="2.6" stroke-linejoin="round" />
<polyline points="1391.1,1212 1395.1,1212.4 1399.1,1211.4 1406.1,1210.6 1412.1,1211.5 1416.1,1210.7 1420.1,1211.4 1423.1,1210.9 1427.1,1211.9 1436.1,1211.7 1438.1,1211.5 1442.1,1210.5 1447.1,1211.3 1453.1,1211 1457.1,1211.8 1463.1,1211.2 1469.1,1211.9 1474.1,1213.1 1482.1,1211.9 1489.1,1212 1493.1,1211.5 1495.1,1211.7 1499.1,1212.7 1504.1,1212.7 1509.1,1211.3 1519.1,1211.9 1523.1,1212.4 1526.1,1211.9 1531.1,1212.3 1541.1,1211.4 1544.1,1211.6 1548.1,1212.4 1556.1,1211.1 1564.1,1211.5 1573.1,1210.8 1579.1,1211.2 1583.1,1210 1587.1,1210.8 1590.1,1209.9 1593.1,1209.5 1598.1,1210.4 1601.1,1209.5 1603.1,1209.3 1607.1,1209.7 1613.1,1209.3 1622.1,1210.3 1627.1,1208.4 1629.1,1208.2 1633.1,1209 1637.1,1207.3 1643.1,1206.7 1650.1,1205 1657.1,1200.8 1663.1,1196.3 1666.1,1195 1669.1,1193.1 1670.1,1192.9 1672.1,1193.6 1681.1,1198.6 1686.1,1200.6 1688.1,1200.8 1690.1,1200.6 1695.1,1199.4 1698.1,1197.6 1701.1,1193.5 1703.1,1189.5 1707.1,1177.8 1708.1,1176.2 1709.1,1176.5 1710.1,1178.6 1714.1,1191.4 1716.1,1195.9 1718.1,1198.6 1722.1,1201.7 1728.1,1203.8 1736.1,1204.8 1740.1,1205.7 1752.1,1206.8 1756.1,1206.7 1764.1,1208.6 1771.1,1207.8 1778.1,1208.6 1782.1,1208 1790.1,1208.7 1796.1,1208.1 1801.1,1209.3 1804.1,1209 1813.1,1209.1 1818.1,1210.5 1823.1,1209.6 1827.1,1209.9 1833.1,1209.6 1837.1,1208.3 1839.1,1208.1 1843.1,1208.8 1859.1,1209.5 1865.1,1208.7 1869.1,1209.7 1873.1,1209.9 1880.1,1209.8 1884.1,1209.3 1889.1,1209.4 1894.1,1208.2 1900.1,1208.2 1906.1,1207.8 1912.1,1208.6 1915.1,1209.3 1926.1,1208.7 1932.1,1209.3 1936.1,1210.2 1944.1,1208.7 1951.1,1209 1956.1,1207.5 1962.1,1206.9 1967.1,1204.3 1969.1,1203.8 1973.1,1201.9 1976.1,1201.2 1980.1,1198.9 1985.1,1198 1993.1,1199.3 1998.1,1202.4 2003.1,1203.7 2008.1,1206.4 2017.1,1209.3 2019.1,1209.5 2023.1,1208.9 2027.1,1209.1 2031.1,1208.7 2037.1,1209.4 2041.1,1210.1 2050.1,1209.1 2054.1,1209.8 2057.1,1209.6 2061.1,1210 2065.1,1209 2068.1,1209.3 2072.1,1209.2 2079.1,1210.4 2081.1,1210 2083.1,1209.1 2085.1,1208.8 2095.1,1209.4 2100.1,1209 2105.1,1209.5 2111.1,1208.5 2116.1,1209.3 2123.1,1209.5 2129.1,1208.9 2137.1,1209.4 2153.1,1209.7 2158.1,1208.9 2163.1,1209.2 2168.1,1208.3 2175.1,1209.6 2180.1,1209.8 2184.1,1210.4 2187.1,1210 2191.1,1210.1 2201.1,1208.8 2206.1,1209 2210.1,1208.5 2214.1,1208.8 2218.1,1208.4 2221.1,1208.9 2230.1,1208.9 2238.1,1210 2242.1,1209.1 2246.1,1209.6 2253.1,1209.3 2258.1,1209.6 2264.1,1209.2 2268.1,1208.3 2275.1,1209.5 2281.1,1209.4 2284.1,1209 2289.1,1209.9 2298.1,1209.3 2303.1,1209.7 2306.1,1209.4 2311.1,1210.2 2317.1,1209.4 2322.1,1209.6 2326.1,1208.9 2330.1,1209.4 2335.1,1209.1 2340.1,1209.6 2344.1,1210.5 2351.1,1209 2355.1,1209" fill="none" stroke="#1040e6" stroke-width="2.6" stroke-linejoin="round" />
<polyline points="1391.1,1270.3 1412.1,1269.8 1423.1,1270.3 1431.1,1270.1 1446.1,1270.5 1457.1,1269.8 1467.1,1270.5 1477.1,1270.4 1485.1,1271 1499.1,1270.1 1507.1,1269.3 1518.1,1270.2 1546.1,1270.1 1555.1,1269.7 1565.1,1270.1 1576.1,1269.5 1587.1,1269.8 1600.1,1268.8 1610.1,1268.6 1624.1,1267.3 1639.1,1265.1 1645.1,1263.4 1649.1,1261.7 1652.1,1259.5 1654.1,1257.4 1663.1,1244.5 1665.1,1242.8 1666.1,1242.5 1667.1,1242.6 1669.1,1243.9 1676.1,1252 1679.1,1254.5 1681.1,1255.3 1684.1,1255.8 1687.1,1255.3 1689.1,1254.5 1692.1,1252.3 1695.1,1248.8 1698.1,1243.9 1705.1,1229.7 1707.1,1227.4 1708.1,1227.1 1709.1,1227.4 1711.1,1229.7 1719.1,1246.8 1724.1,1255.1 1728.1,1259.4 1731.1,1261.4 1734.1,1262.8 1740.1,1265 1743.1,1265.5 1746.1,1265.6 1754.1,1264.7 1759.1,1264.7 1778.1,1266.3 1788.1,1266.7 1801.1,1269.1 1810.1,1270.2 1833.1,1270 1842.1,1269.7 1851.1,1270.2 1858.1,1270 1865.1,1270.2 1874.1,1269.7 1888.1,1270.3 1918.1,1270.3 1927.1,1270.6 1941.1,1270 1952.1,1270.5 1962.1,1270 1990.1,1270.5 2001.1,1270 2018.1,1269.9 2048.1,1270.5 2059.1,1270 2090.1,1270.7 2100.1,1270 2111.1,1270.6 2121.1,1270 2130.1,1270.2 2140.1,1269.9 2158.1,1270.6 2168.1,1270.3 2189.1,1270.4 2208.1,1269.9 2234.1,1270.5 2261.1,1270.3 2270.1,1269.9 2281.1,1270.4 2300.1,1270.5 2308.1,1270.9 2315.1,1270.5 2334.1,1270 2355.1,1270.7" fill="none" stroke="#109a30" stroke-width="2.4" stroke-linejoin="round" />
<polyline points="1391.1,1466.7 1399.1,1467 1410.1,1466.4 1421.1,1466.5 1445.1,1466.1 1466.1,1467 1492.1,1466.5 1507.1,1466.8 1523.1,1466.1 1534.1,1466.9 1547.1,1466.4 1562.1,1466.9 1577.1,1466 1589.1,1466.6 1622.1,1464.4 1634.1,1462.9 1643.1,1462.2 1670.1,1459.3 1678.1,1458.8 1682.1,1458.1 1685.1,1456.8 1687.1,1455.3 1689.1,1453.1 1692.1,1447.7 1695.1,1438.8 1697.1,1430.6 1699.1,1420.5 1702.1,1401.6 1712.1,1322.2 1715.1,1302.1 1717.1,1291.8 1719.1,1284.4 1721.1,1279.9 1722.1,1278.7 1723.1,1278.1 1724.1,1277.9 1726.1,1278.2 1727.1,1278.7 1729.1,1280.8 1730.1,1282.3 1732.1,1286.8 1735.1,1296.9 1740.1,1321.5 1752.1,1392 1756.1,1410.6 1760.1,1424.8 1762.1,1430.3 1765.1,1437 1767.1,1440.5 1770.1,1444.6 1773.1,1447.5 1776.1,1449.6 1779.1,1451.1 1783.1,1452.5 1797.1,1456.3 1807.1,1458.4 1828.1,1463.7 1843.1,1466.5 1850.1,1467.1 1864.1,1466.2 1877.1,1466.4 1911.1,1465.9 1928.1,1467 1945.1,1466.3 1963.1,1466.1 1974.1,1465.2 2006.1,1460.8 2010.1,1460.6 2014.1,1461.1 2023.1,1463.2 2040.1,1465.7 2045.1,1466 2062.1,1465.4 2071.1,1465.6 2081.1,1465.2 2126.1,1466.3 2142.1,1465.3 2156.1,1466 2179.1,1465 2191.1,1465.8 2203.1,1465.5 2212.1,1465.7 2227.1,1465.5 2239.1,1464.5 2249.1,1465 2263.1,1464.7 2293.1,1465.4 2311.1,1465.4 2327.1,1465 2355.1,1465.3" fill="none" stroke="#be50f0" stroke-width="2.1" stroke-linejoin="round" />
<polyline points="1391.1,1583 1415.1,1582.9 1424.1,1583.1 1448.1,1582.5 1457.1,1582.9 1466.1,1582.4 1474.1,1582.8 1483.1,1582.7 1502.1,1583.3 1513.1,1583.1 1526.1,1583.3 1542.1,1582.8 1560.1,1583.1 1572.1,1582.5 1583.1,1582.9 1614.1,1582 1626.1,1580.5 1641.1,1577.7 1645.1,1576.8 1649.1,1575.3 1652.1,1573.5 1655.1,1570.9 1658.1,1567.3 1664.1,1558.9 1666.1,1557 1668.1,1556.1 1669.1,1556.1 1671.1,1556.9 1677.1,1562.5 1679.1,1563.8 1681.1,1564 1682.1,1563.6 1684.1,1561.5 1685.1,1559.7 1687.1,1554.5 1689.1,1547.1 1692.1,1531.5 1696.1,1503.3 1704.1,1437.5 1708.1,1412.2 1710.1,1403.8 1712.1,1398.5 1714.1,1395.9 1716.1,1395.3 1717.1,1395.7 1718.1,1396.8 1720.1,1400.9 1722.1,1408 1724.1,1417.5 1728.1,1441.9 1738.1,1510.8 1742.1,1532.2 1746.1,1547.5 1748.1,1553.1 1750.1,1557.4 1752.1,1560.7 1755.1,1564.1 1757.1,1565.5 1760.1,1567.1 1773.1,1572.1 1782.1,1574.2 1809.1,1579.1 1837.1,1581.8 1850.1,1581.9 1860.1,1582.4 1872.1,1581.9 1883.1,1583.1 1888.1,1583.3 1895.1,1582.9 1905.1,1581 1908.1,1580.8 1921.1,1582.8 1937.1,1583.1 1947.1,1582.5 1959.1,1582.2 1966.1,1581 1969.1,1579.9 1972.1,1578.4 1982.1,1571.4 1986.1,1569 1990.1,1567.4 1994.1,1566.9 1999.1,1567.3 2004.1,1568.7 2008.1,1570.6 2020.1,1577.2 2030.1,1580.7 2036.1,1581.8 2045.1,1582.1 2054.1,1583 2072.1,1582.6 2091.1,1583 2100.1,1582.6 2121.1,1582.4 2148.1,1582.8 2166.1,1582.3 2195.1,1583.2 2224.1,1582.1 2246.1,1582.8 2270.1,1582.4 2293.1,1582.5 2306.1,1582 2320.1,1582.1 2329.1,1582.8 2337.1,1582.8 2346.1,1583.3 2350.1,1583.1 2355.1,1582.4" fill="none" stroke="#ee1010" stroke-width="3.1" stroke-linejoin="round" />
<line x1="1668.8" y1="1056.8" x2="1665.6" y2="1588" stroke="#000" stroke-width="3.9" stroke-dasharray="17.2 17.2"/>
<line x1="1665.6" y1="1592.5" x2="1665.6" y2="1596.5" stroke="#000" stroke-width="3.4" stroke-linecap="butt"/>
<path d="M1704.3 1053.5 L1711 1330 L1719 1539" fill="none" stroke="#000" stroke-width="3.3" stroke-dasharray="17 17"/>
<line x1="1985.7" y1="1186.8" x2="1985.7" y2="1271.0" stroke="#000" stroke-width="4.6" stroke-linecap="round" stroke-dasharray="13.32 20.28" stroke-dashoffset="-1.84"/>
<line x1="1985.7" y1="1285.5" x2="1985.7" y2="1288.5" stroke="#000" stroke-width="3.6" stroke-linecap="butt"/>
<line x1="2009" y1="1449" x2="1999.5" y2="1606" stroke="#000" stroke-width="2.4" stroke-dasharray="13 8.5"/>
<line x1="1876" y1="1185.5" x2="1906.7" y2="1206.2" stroke="#000" stroke-width="2.2"/>
<rect x="1389.6" y="906.6" width="966.7" height="720.9" fill="none" stroke="#000" stroke-width="3.2"/>
<line x1="1464.6" y1="1608.5" x2="1464.6" y2="1627.5" stroke="#000" stroke-width="3" stroke-linecap="butt"/>
<text x="1463.9" y="1684.8" font-size="44" text-anchor="middle" >2300</text>
<line x1="1612.3" y1="1608.5" x2="1612.3" y2="1627.5" stroke="#000" stroke-width="3" stroke-linecap="butt"/>
<text x="1610.5" y="1684.8" font-size="44" text-anchor="middle" >2200</text>
<line x1="1761.3" y1="1608.5" x2="1761.3" y2="1627.5" stroke="#000" stroke-width="3" stroke-linecap="butt"/>
<text x="1761.5" y="1684.8" font-size="44" text-anchor="middle" >2100</text>
<line x1="1909.3" y1="1608.5" x2="1909.3" y2="1627.5" stroke="#000" stroke-width="3" stroke-linecap="butt"/>
<text x="1906.5" y="1684.8" font-size="44" text-anchor="middle" >2000</text>
<line x1="2057.8" y1="1608.5" x2="2057.8" y2="1627.5" stroke="#000" stroke-width="3" stroke-linecap="butt"/>
<text x="2055.1" y="1684.8" font-size="44" text-anchor="middle" >1900</text>
<line x1="2206.5" y1="1608.5" x2="2206.5" y2="1627.5" stroke="#000" stroke-width="3" stroke-linecap="butt"/>
<text x="2204.6" y="1684.8" font-size="44" text-anchor="middle" >1800</text>
<text x="2350.9" y="1684.8" font-size="44" text-anchor="middle" >1700</text>
<text x="1816.9" y="1746.0" font-size="44" text-anchor="start" font-style="italic" >v</text>
<text x="1842.2" y="1746.3" font-size="47" text-anchor="start" >/</text>
<text x="1853.6" y="1746.0" font-size="44" text-anchor="start" >cm</text>
<text x="1909.3" y="1730.6" font-size="24.5" text-anchor="start" >−</text>
<text x="1925.3" y="1730.6" font-size="24.5" text-anchor="start" >1</text>
<text x="1821.1" y="1747.2" font-size="42" text-anchor="start" >˜</text>
<rect x="1411.5" y="929.6" width="4.0" height="39.5" fill="#000"/>
<rect x="1406.8" y="929.6" width="13.5" height="3.0" fill="#000"/>
<rect x="1406.8" y="966.1" width="13.5" height="3.0" fill="#000"/>
<text x="1440.6" y="961.6" font-size="44" text-anchor="start" >0.5</text>
<text x="2337.2" y="958.7" font-size="45.5" text-anchor="end" >(D)</text>
<text x="1534.4" y="999.3" font-size="44" text-anchor="start" letter-spacing="-0.35" >Pd<tspan font-size="28" dy="-20">2+</tspan><tspan dy="20">-CO</tspan></text>
<text x="1708.5" y="999.3" font-size="44" text-anchor="start" letter-spacing="-0.35" >Cu<tspan font-size="25" font-weight="bold" dy="-18" dx="2">−</tspan><tspan dy="18" dx="3.4">-CO</tspan></text>
<text x="1804.2" y="1182.6" font-size="44" text-anchor="start" letter-spacing="0.25" >Pd<tspan font-size="24" dy="4">2</tspan><tspan dy="-4">-CO</tspan></text>
<text x="2035.0" y="1184.6" font-size="44" text-anchor="start" letter-spacing="-0.35" >Pd<tspan font-size="21" dy="-21" dx="1">*</tspan><tspan dy="21" dx="2.2">-CO</tspan></text>
<text x="2053.5" y="1396.2" font-size="44" text-anchor="start" letter-spacing="-0.35" >Pd<tspan font-size="25" font-weight="bold" dy="-18" dx="2">−</tspan><tspan dy="18" dx="3.4">-CO</tspan></text>
<text x="2304.5" y="1056.6" font-size="44" text-anchor="start" font-style="italic" >c′</text>
<text x="2305.5" y="1117.7" font-size="44" text-anchor="start" font-style="italic" >c</text>
<text x="2304.0" y="1191.4" font-size="44" text-anchor="start" font-style="italic" >b′</text>
<text x="2305.0" y="1265.6" font-size="44" text-anchor="start" font-style="italic" >b</text>
<text x="2285.2" y="1447.4" font-size="44" text-anchor="start" font-style="italic" >a′</text>
<text x="2289.5" y="1561.8" font-size="44" text-anchor="start" font-style="italic" >a</text>
</svg>
</body></html>
